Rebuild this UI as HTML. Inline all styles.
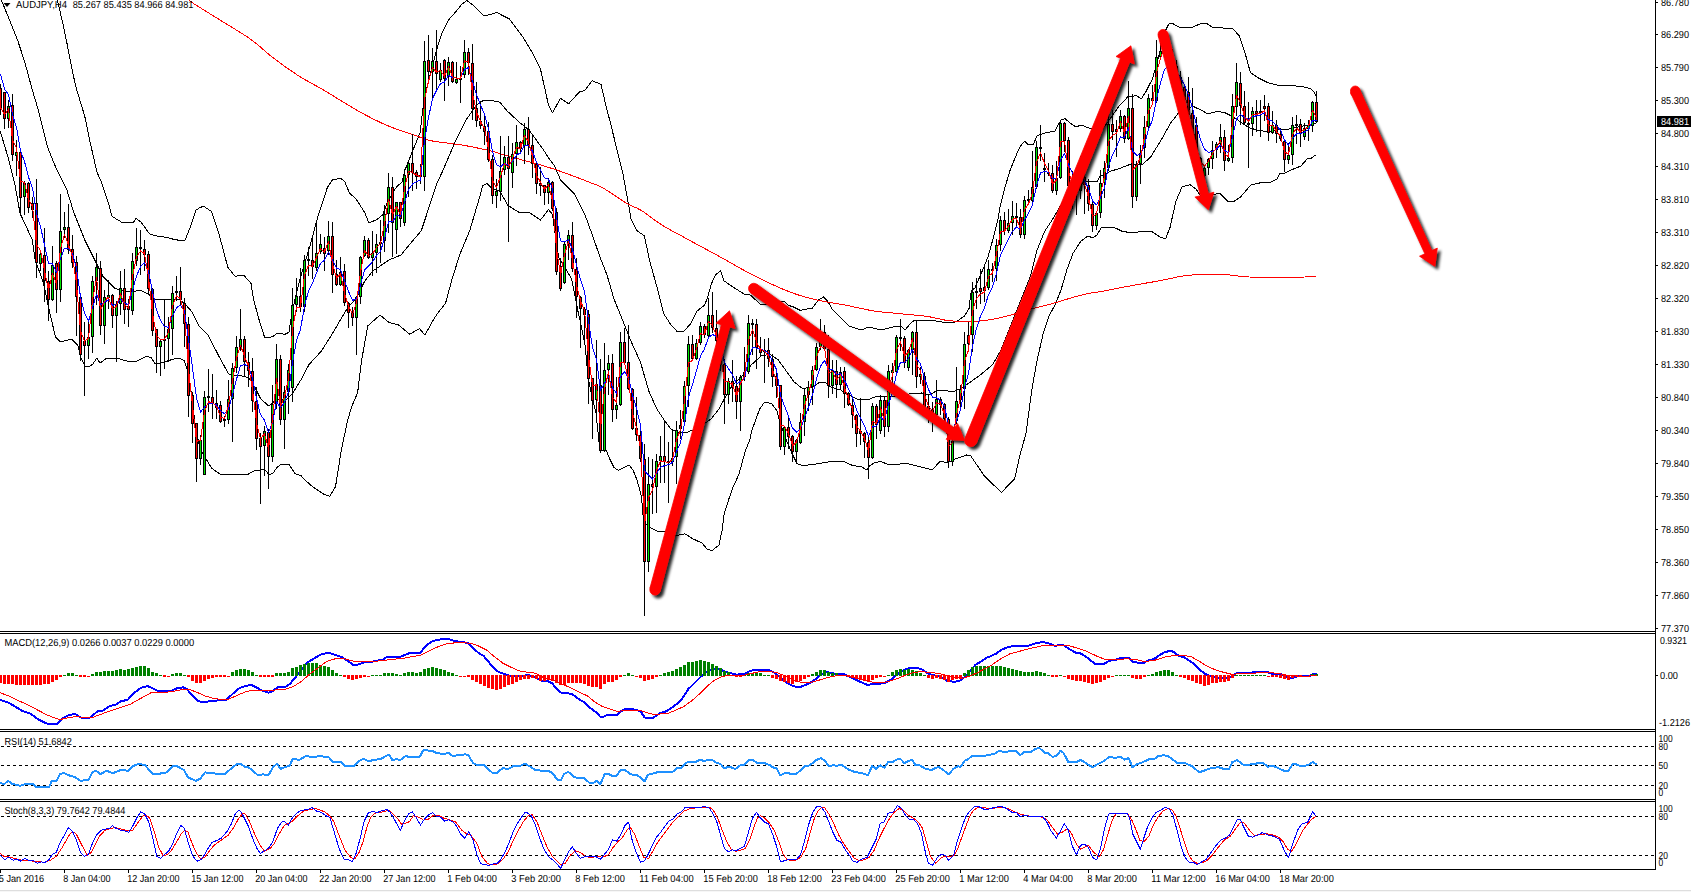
<!DOCTYPE html>
<html><head><meta charset="utf-8"><title>AUDJPY H4</title>
<style>html,body{margin:0;padding:0;background:#fff;overflow:hidden}svg{display:block}</style>
</head><body>
<svg width="1691" height="892" viewBox="0 0 1691 892">
<defs>
<filter id="sh" x="-20%" y="-20%" width="150%" height="150%"><feGaussianBlur in="SourceAlpha" stdDeviation="1.6"/><feOffset dx="2.5" dy="2.5" result="o"/><feComponentTransfer><feFuncA type="linear" slope="0.85"/></feComponentTransfer><feMerge><feMergeNode/><feMergeNode in="SourceGraphic"/></feMerge></filter>
<clipPath id="cm"><rect x="0" y="0" width="1655" height="631"/></clipPath>
</defs>
<rect width="1691" height="892" fill="#fff"/>
<g clip-path="url(#cm)">
<polyline points="56.5,-3 57.4,0 62.8,23.3 67.3,44.9 71.8,68.2 75.7,86.2 84.8,116.5 89.8,140.7 96.9,172 100.9,181 109,205.3 112,216.4 123,223 133.2,222.5 136.2,218.4 141.3,222.5 149.3,233.6 154.4,235.6 167.5,237.6 174.6,239.6 184.7,241 190.7,226 195.8,210.4 200,207.3 204,206.5 211.7,211.7 218.8,233.2 227.8,267.3 235,276.2 244,275.5 251,283.4 253.7,300 259.7,322 264.8,338 272.8,336.7 276.9,333.3 285,334.3 289,332.3 292,312 300,279 310.3,244.9 317.3,218.6 327.4,187.3 332.5,179.9 340.5,178.3 344.6,181.3 349.6,193.4 355.7,198.4 364.8,212.6 368.8,223 376.9,219.6 382.9,214.6 387,203.5 393,192.4 397,186.3 402,182.3 405,170 413,150 420,133 424,100 430,75 436,52 441.5,34 448.5,20 455.6,12 462,4 467,0.5 473.5,5.4 484.3,16 496.9,12.6 509.4,19 523,37 533,54 540.3,68.4 544.4,86.6 548.4,104.8 552.5,112.8 560.5,98.3 568.6,103.8 579.7,91.6 584.7,90.6 592,80.7 601,84.3 606.4,107.6 611,125 617,150 623,174 627,196 631,218.6 637,230.7 644.4,235.8 649.4,260 657.5,289 663.6,313.5 671,325 677,331.3 684,331.3 691,323.2 696.7,311.3 704.8,305 708,296 711.5,283.5 715.6,275 720.5,270.4 724,280.8 733,287 744.3,294.2 749.6,294.4 760.4,304.3 769,304.3 779.7,301.4 784.6,301.4 788.7,305.4 793,306.8 800.3,310.4 812.5,308 818.5,300 823.6,297 827.6,301 832.7,310 840.7,318 848.8,326 861,330 869,327 881,330 893,327 901,326 905,330 911,323 915,320 927.5,320 932,320.3 944,322.3 956,322 964.4,316 969.4,308 970.5,294 972,290 975,288 982,271.5 988,257 993,239 998,219 1000,207 1004,190.7 1010,170.5 1016.5,154.4 1020.5,146 1024.6,141.3 1028.6,145 1033.7,144 1036.7,136 1044.8,133 1054.9,131 1061,120 1065,118.5 1070,123 1076,127 1081,125 1089,128 1102,130 1110,119 1120,104.8 1128,96.7 1136.4,95.7 1141.5,98.7 1146.5,90.6 1152.6,78.5 1158.6,56.3 1164.7,32 1168.7,24 1172.7,23.6 1180.8,28 1191,27.7 1201,23.6 1207,23.6 1213,27.7 1223,28 1233.3,29 1239.3,36 1245.4,54.3 1250.4,72.5 1257.5,77.5 1267.6,82.6 1279.7,85.6 1293,85.8 1303,86.6 1311,89 1314,92 1316.5,97" fill="none" stroke="#000" stroke-width="1" stroke-linejoin="round" shape-rendering="crispEdges" />
<polyline points="0,-2 3.6,5.4 10.8,23.3 18,41.3 25,62.8 32.3,90 38.6,111 47.4,146.8 56,168 66.6,189 74,213 80,228 84.8,240 94.9,260.4 103,276.5 115,288.6 129.2,291.6 141.3,290.6 149.3,294.7 155.4,299.7 165.5,299.7 180,300 186,305 192,312 199,326 208,335 218,354.5 228.4,373.7 232.5,375.7 240.5,375.7 248.6,377.7 254.7,386.8 260.7,398.9 268.8,406 274.9,401 280.9,399 287,399 293,392.8 301,379.7 309,364.6 321,351.5 331,336 334.5,330 346.6,309.4 356.7,297.3 364.8,281 372.8,271 389,260 401,255 411,242.8 421.3,230.7 429.3,206.5 431.4,200 437.4,182.3 442.5,171.4 454.6,143 466.7,119 476.8,104.8 482.8,100.7 491,100.3 500,102.3 507,110.8 519,122 529,130 537,141 543.5,150 549.4,159 554.6,166 560.6,180 565.6,185 574.8,194.4 584.9,214.6 593,236.8 600,257 607,275 614,299 622.5,320 630.5,340 640.6,362.6 648.7,390.8 656.8,409 664.9,421 671,429 677,432 685,433 693,430 701,426 711,419 719,409 725.4,397 731.5,386.8 741.5,376.7 751.6,364.6 761.7,355.5 770,354.6 778,359.6 786,370.7 794,381.8 802.4,388.5 812.5,387 818.5,383 824.6,382 830.6,387 840.7,390 848.8,395 856.9,399 867,400 875,397 885,396 897,396 909,394 921.5,393 930,395 936,391 944,390 952,392 960,389 970.5,382 980.5,374.8 992.6,364.7 1000.7,350.5 1008.8,330.4 1016.9,310 1025,290 1030.6,275.5 1036.7,251 1044.8,231 1052.8,219 1061,204.9 1069,190.7 1085,181.6 1097,181.6 1100,176.4 1110,171.4 1120,168.3 1130.4,164.3 1142.5,164.3 1150.5,157.2 1160.6,141 1170.7,123 1178,113.5 1186,107.4 1194,106.8 1202,110.5 1208,114 1216.4,111.5 1224.5,112.5 1230.5,115.5 1238.6,120.5 1248.7,127.6 1258.8,130.6 1269,131.6 1277,129.6 1287,129.6 1295,127.6 1305,125.6 1316.5,123.6" fill="none" stroke="#000" stroke-width="1" stroke-linejoin="round" shape-rendering="crispEdges" />
<polyline points="0,130.6 8,157 15,185 20,213 23.2,220 32.3,240 35.3,260.4 43.4,282.6 48.4,306.8 55.5,337 60.5,342 71.6,339 77.7,345 80.7,357 84.8,366 88.8,367 92.8,364 96.9,358 100,363 107,358 116,358 127,361 137,361 147.3,356 151.4,358 155.4,364 161.5,363 173.6,359 180,358.5 184,360.5 187,368.6 189,384.8 192,394.9 195,425 200,449 206,459 212,468.5 220,474 248.6,474 254.7,470.5 264.8,469.5 268.8,474.6 272.8,473.6 276.9,467.5 280.9,464.5 289,464.5 295,473.6 301,475.6 305,480 312.6,486.8 324,494.4 329.8,496.3 335.5,486.8 341.5,449 347.5,421 351.5,407 357.6,392.8 361.6,360.5 367.7,326 380,315 389,322.5 398.4,324.8 409.8,334.3 419.4,328.6 425,335 432.7,321 437.4,313.5 445.5,303.4 451.5,281 459.6,255 469.7,230.7 478.8,200 482.8,185.5 486.9,183.5 491,187.5 500,191.5 508,205.5 520,213 529.4,212.6 540.5,220 548.5,209.5 552.6,214.6 554.6,230.7 558.6,257 565.7,269 571.7,279 574.8,295 578.8,315.5 580,320 585,344.4 588,376.7 592,397 596,413 600,451 606,450 610,459.4 614,467.5 618.4,470.5 623,468 629,465 633,470 637,480 641.5,496.5 643.5,520.7 648.5,526.8 656.6,531 665.7,531.8 674.8,535.9 684.9,533.8 693,538.9 702,543 707,549 712,550.6 719,545 722,530.8 724,514.7 729,498.5 733,487.4 739,474 745,452 750.4,438 751.6,431 759.7,409 763.7,403.3 766,402 772,404 777,411 780,423 786,439.3 792,453.5 797,463.6 802.4,465.6 816.5,464 830.6,461.5 844.8,462 852.8,465.6 861,466.6 867,470 870,465.6 875,462.6 881,461.5 887,464 897,464.6 905,463 915.4,465.6 927.5,468.6 932,470 940,461.5 948,462.6 954,459.5 966.4,455 970.8,456 984,475.4 1001.3,492.5 1014.6,479 1020,455 1026,433.4 1031.8,390 1037,360.6 1043,334.4 1049,316 1055,305 1061,290 1067,269.4 1073,253.3 1081,241 1088,236 1093,238 1097,235 1101,228 1109.3,227 1115.4,228 1121.5,231 1131.5,233 1141.6,231.5 1151.7,231.5 1160,237 1165.5,239 1170,227.5 1176,201 1182,187 1190,184.7 1196,189 1200,195 1208,195.5 1213.4,195 1219.4,193 1227.5,201 1234.6,201 1240.6,197 1250.7,185 1260.8,182.7 1271,182 1277,179 1280,173 1285,173 1291,170 1301,166 1308,158 1311,158.5 1315.7,155" fill="none" stroke="#000" stroke-width="1" stroke-linejoin="round" shape-rendering="crispEdges" />
<polyline points="186,-2 193.7,3.6 196.7,5.5 200.4,7.8 204.5,10.4 209,13.2 213.6,16 218.1,18.8 222.4,21.5 226.6,24.1 230.8,26.6 235,29.2 239.2,31.8 243.3,34.4 247.3,36.9 251,39.5 255.7,43.1 260,46.7 264,50.2 268.2,53.8 272.6,57.4 276.6,60.4 280.7,63.5 285,66.6 289.3,69.6 293.6,72.5 297.8,75.3 301.9,77.8 305.8,80.1 309.7,82.3 313.7,84.5 318.1,86.9 322.9,89.7 326.9,92.1 331.3,94.7 335.9,97.6 340.6,100.5 345.3,103.3 350,106.2 354.5,108.8 358.7,111.2 363.2,113.7 367.5,116 371.7,118.2 375.7,120.2 379.7,122.1 383.5,123.9 387.4,125.6 391.9,127.4 396.3,129.1 400.7,130.6 404.9,131.9 408.9,133.2 412.6,134.5 417.5,136.3 421.9,137.9 426,139.4 430.5,140.6 434.4,141.4 438.5,142 442.7,142.5 446.7,143 450.5,143.5 455.8,144.2 460.6,144.8 466.4,145.8 470,146.5 474.1,147.3 478.4,148.2 482.8,149.1 487.1,150.1 491,151 495.3,152.2 499.3,153.4 503.2,154.6 507.1,155.8 511,157 515,158.1 519,159.1 523,160.2 527,161.2 531,162.3 535.1,163.4 539.2,164.6 543.3,165.8 547.4,167 551.5,168.3 555.6,169.6 559.7,171.1 563.7,172.5 567.7,174 571.6,175.4 576.4,177.2 581.2,179 585.8,180.8 590,182.5 594.3,184.1 598.1,185.5 603,188 606.5,190.1 610.5,192.7 614.9,195.7 619.3,198.6 623.4,201.3 627,203.5 632.3,206.2 636.5,207.9 641.4,210.5 645,212.9 648.9,215.8 653,218.8 657.3,221.9 661.5,224.7 665.6,227.2 669.5,229.4 673.6,231.7 678.2,234.1 683.5,237 687.3,239.1 691.5,241.4 695.9,243.8 700.6,246.3 705.3,248.9 710.1,251.4 714.8,254 719.4,256.5 723.9,259 728.4,261.5 732.8,264 737.3,266.6 741.8,269.1 746.3,271.5 750.7,273.9 755.2,276.2 759.7,278.4 764.3,280.7 768.9,282.9 773.5,285 778.1,287.1 782.5,289 786.9,290.8 791,292.4 795.5,294 799.8,295.4 804,296.7 808.1,297.8 812.1,298.8 815.9,299.7 819.8,300.6 824.1,301.5 828.3,302.3 832.3,302.9 836.4,303.6 840.5,304.2 844.8,305 848.7,305.8 852.6,306.6 856.7,307.5 860.8,308.4 864.9,309.3 869,310.1 873,310.8 877,311.4 881.1,311.9 885.1,312.3 889.1,312.7 893.1,313 897.1,313.4 901,313.8 905.6,314.3 910.2,314.7 914.8,315.1 919.3,315.5 923.6,316 927.5,316.5 932.8,317.4 937.5,318.5 941.9,319.5 946,320.3 950.9,320.9 955.3,321.1 960,321.3 964,321.4 968.1,321.5 972.3,321.5 976.5,321.3 980.5,321 984.4,320.6 988.4,320 992.6,319.3 997,318.4 1001.6,317.4 1006.2,316.2 1011,315 1014.9,313.9 1018.9,312.7 1022.9,311.4 1027,310.2 1031,309 1035,308 1039,307 1043,306 1047,305 1051,304 1055.1,302.8 1059.2,301.6 1063.3,300.3 1067.2,299.1 1071,298 1075.4,296.7 1079.6,295.6 1083.6,294.5 1087.5,293.6 1092.1,292.8 1096.5,292.3 1101.6,291.5 1105,290.8 1108.5,290.1 1112.4,289.3 1117,288.4 1122.6,287.3 1126,286.7 1129.8,286 1134.1,285.2 1138.5,284.5 1143.1,283.6 1147.7,282.8 1152.1,282.1 1156.3,281.3 1160.2,280.6 1163.5,280 1168.9,278.9 1173.1,278 1176.7,277.1 1180.1,276.4 1183.9,275.8 1188,275.3 1192.1,275 1196.1,274.8 1200.2,274.7 1204.3,274.6 1208.4,274.5 1212.5,274.4 1216.6,274.4 1220.7,274.4 1224.8,274.6 1228.9,274.9 1233,275.4 1237,275.9 1241.1,276.3 1245.2,276.7 1249.3,277 1253.4,277.2 1257.4,277.3 1261.5,277.4 1265.6,277.5 1269.5,277.6 1273.3,277.6 1277.2,277.6 1281.3,277.6 1286,277.5 1290,277.4 1294.7,277.3 1299.7,277.2 1304.7,277 1309.3,276.9 1313.1,276.8 1315.9,276.7" fill="none" stroke="#f00" stroke-width="1" stroke-linejoin="round" shape-rendering="crispEdges" />
<path d="M0.5 84.2V114.5M4.5 92.3V128.6M8.5 100.4V127.6M12.5 94.3V160.9M16.5 139.7V176M20.5 151.8V216.4M24.5 181.1V215.4M28.5 182.1V213.4M32.5 197.2V218.4M36.5 178.6V277.5M40.5 250.3V270.5M44.5 228.1V301.7M48.5 270.5V320.9M52.5 246.2V300.7M56.5 261.4V312.8M60.5 193.8V301.7M64.5 211.9V238.2M68.5 203.9V254.3M72.5 235.1V268.4M76.5 256.3V336M80.5 296.7V361.3M84.5 321.9V395.6M88.5 321.9V359.3M92.5 275.5V353.2M96.5 253.3V304.8M100.5 261.4V335M104.5 289.6V344.1M108.5 279.5V308.8M112.5 293.7V328M116.5 300.7V362.3M120.5 270.5V314.9M124.5 269.4V323.9M128.5 298.7V327M132.5 253.3V314.9M136.5 228.1V266.4M140.5 230.1V274.5M144.5 240.2V270.5M148.5 251.3V293.7M152.5 287.6V336M156.5 329V373.4M160.5 340.1V376.4M164.5 299.7V369.3M168.5 316.9V362.3M172.5 285.6V355.2M176.5 275.5V300.7M180.5 267.4V304.8M184.5 297.8V347.4M188.5 317.2V417.1M192.5 391.8V443.3M196.5 423.1V481.6M200.5 435.2V464.5M204.5 390.8V474.6M208.5 368.6V412M212.5 373.7V419.1M216.5 389.8V419.1M220.5 400.9V423.1M224.5 416V427.1M228.5 379.7V424.1M232.5 362.6V442.3M236.5 336.3V372.7M240.5 309.1V350.5M244.5 336.3V375.7M248.5 351.5V386.8M252.5 357.5V412M256.5 386.8V450.4M260.5 433.2V503.8M264.5 426.1V475.6M268.5 429.2V488.7M272.5 384.8V461.5M276.5 344.4V409M280.5 354.5V425.1M284.5 385.8V449.3M288.5 363.6V414M292.5 288.2V402.3M296.5 278.2V311.5M300.5 268.1V311.5M304.5 254.9V311.5M308.5 246.9V276.1M312.5 237.8V279.2M316.5 219.6V271.1M320.5 233.8V253.9M324.5 236.8V271.1M328.5 220.6V254.9M332.5 221.6V293.3M336.5 260V286.2M340.5 257V286.2M344.5 264V306.4M348.5 302.4V327.6M352.5 307.4V325.6M356.5 296.3V355.4M360.5 256V304.4M364.5 235.8V257M368.5 237.8V259M372.5 230.7V276.1M376.5 233.8V273.1M380.5 219.6V263M384.5 204.5V251.9M388.5 173.2V232.7M392.5 177.2V257M396.5 201.5V253.9M400.5 201.5V226.7M404.5 169.2V225.7M408.5 162.1V197.4M412.5 134.1V191.4M416.5 170.2V189.4M420.5 164.1V184.3M424.5 41.2V190.5M428.5 35.1V80.5M432.5 48.3V98.7M436.5 30.1V90.6M440.5 63.4V81.6M444.5 59.4V100.7M448.5 57.3V85.6M452.5 61.4V82.6M456.5 62.4V83.6M460.5 66.4V102.7M464.5 40.2V77.5M468.5 48.3V74.5M472.5 44.2V119.9M476.5 81.6V127M480.5 100.7V129M484.5 115.9V145.1M488.5 121.9V162.3M492.5 155.2V203.7M496.5 179.4V207.7M500.5 136V200.6M504.5 146.1V175.4M508.5 136V242M512.5 143.1V187.5M516.5 124.9V166.3M520.5 141.1V154.2M524.5 122.9V164.3M528.5 116.9V155.2M532.5 134V178.4M536.5 163.3V193.6M540.5 167.3V195.6M544.5 184.5V204.7M548.5 178.4V203.7M552.5 181.3V210.5M556.5 207.5V275.1M560.5 258V291.3M564.5 241.8V284.2M568.5 229.7V260M572.5 221.6V272.1M576.5 258V317.5M580.5 296.3V347.8M584.5 307.4V343.7M588.5 310.1V403.9M592.5 377.7V439.3M596.5 340.4V414M600.5 358.5V453.4M604.5 343.4V452.4M608.5 354.5V394.9M612.5 353.5V422.1M616.5 376.7V419.1M620.5 332.3V406M624.5 328.3V364.6M628.5 325.2V389.8M632.5 387.8V430.2M636.5 396.9V441.3M640.5 431.2V461.5M644.5 444V615.6M648.5 457.2V572.2M652.5 459.2V513.7M656.5 454.1V512.7M660.5 436V483.4M664.5 419.8V483.4M668.5 442V502.6M672.5 429.9V466.2M676.5 420.8V484.4M680.5 410V439.3M684.5 380.7V423.1M688.5 336.3V407M692.5 335.3V360.5M696.5 339.4V359.5M700.5 322.2V345.4M704.5 324.2V338.3M708.5 298.4V337.3M712.5 291.9V333.3M716.5 310.1V348.4M720.5 330.3V370.6M724.5 358.5V424.1M728.5 377.7V403.9M732.5 359.5V401.9M736.5 375.7V419.1M740.5 374.7V431.2M744.5 347.4V380.7M748.5 315.1V373.7M752.5 319.2V354.5M756.5 319.2V368.6M760.5 337.4V356.6M764.5 339.4V382.8M768.5 338.4V366.7M772.5 353.6V386.9M776.5 367.7V398M780.5 384.9V450.4M784.5 426.2V454.5M788.5 415.1V449.4M792.5 435.3V461.5M796.5 439.3V463.6M800.5 413.1V444.4M804.5 388.9V436.3M808.5 380.8V411.1M812.5 365.7V405M816.5 342.5V370.7M820.5 319.3V349.5M824.5 325.3V349.5M828.5 335.4V398M832.5 359.6V393.9M836.5 359.6V398M840.5 366.7V389.9M844.5 366.7V408.1M848.5 391.9V406M852.5 396V428.2M856.5 414.1V447.4M860.5 398V445.4M864.5 432.3V457.5M868.5 436.3V478.9M872.5 403V458.5M876.5 404V439.3M880.5 394.9V434.3M884.5 397V437.3M888.5 364.7V432.3M892.5 362.7V386.9M896.5 335.4V374.8M900.5 319.3V350.5M904.5 336.4V367.7M908.5 348.5V370.7M912.5 331.4V374.8M916.5 321.3V387.9M920.5 366.7V383.8M924.5 371.7V409.1M928.5 393.9V423.2M932.5 402V432.3M936.5 379.8V419.2M940.5 397V415.1M944.5 403V423.2M948.5 417.1V467.6M952.5 439.3V465.6M956.5 366.7V424.2M960.5 384.9V407.1M964.5 332.4V409.1M968.5 322.3V345.5M972.5 281.9V351.6M976.5 277.9V309.2M980.5 269.4V303.7M984.5 267.4V301.7M988.5 260.4V290M992.5 263.4V281.5M996.5 239.2V280.5M1000.5 216V251.3M1004.5 211.9V235.1M1008.5 208.9V233.1M1012.5 200.8V235.1M1016.5 202.8V227.1M1020.5 208.9V238.2M1024.5 195.8V239.2M1028.5 189.7V204.9M1032.5 151.4V202.8M1036.5 141.3V188.7M1040.5 125.1V160.5M1044.5 153.4V181.6M1048.5 162.5V175.6M1052.5 164.5V192.7M1056.5 160.5V194.8M1060.5 122.1V178.6M1064.5 122.1V152.4M1068.5 137.2V190.7M1072.5 170.5V208.9M1076.5 176.6V214.9M1080.5 156.4V198.8M1084.5 170.5V213.9M1088.5 178.6V210.9M1092.5 201.8V232.1M1096.5 210.9V230.1M1100.5 169.5V218M1104.5 160.5V197.8M1108.5 114V170.5M1112.5 110V140.3M1116.5 120.1V157.4M1120.5 110V132.2M1124.5 115V143.3M1128.5 80.5V140.1M1132.5 93.7V207.9M1136.5 161.3V200.6M1140.5 145.1V183.5M1144.5 115.9V158.2M1148.5 93.7V129M1152.5 84.6V104.8M1156.5 40.2V102.7M1160.5 43.2V59.4M1164.5 30.1V56.3M1168.5 36.1V66.4M1172.5 49.3V80.5M1176.5 60.4V86.6M1180.5 70.5V100.7M1184.5 85.6V108.8M1188.5 77.2V116.5M1192.5 88.3V137.7M1196.5 116.5V160.9M1200.5 156.9V179.1M1204.5 167V181.1M1208.5 157.9V175M1212.5 140.7V169M1216.5 141.7V157.9M1220.5 123.6V152.8M1224.5 129.6V171M1228.5 144.8V161.9M1232.5 94.3V162.9M1236.5 63V115.5M1240.5 72.1V124.6M1244.5 91.3V124.6M1248.5 102.4V168M1252.5 107.4V135.7M1256.5 100.4V131.6M1260.5 100.4V136.7M1264.5 95.3V120.5M1268.5 103.4V140.7M1272.5 110.5V133.7M1276.5 119.5V142.7M1280.5 127.6V140.7M1284.5 139.7V172M1288.5 142.7V163.9M1292.5 116.5V164.9M1296.5 114.5V143.8M1300.5 118.5V146.8M1304.5 122.6V139.7M1308.5 119.5V140.7M1312.5 101.4V131.6M1316.5 91.3V122.6" stroke="#000" stroke-width="1" fill="none" shape-rendering="crispEdges"/>
<path d="M-1 88h3v22h-3zM3 92h3v27h-3zM7 106h3v13h-3zM11 105h3v50h-3zM15 152h3v4h-3zM19 152h3v46h-3zM23 183h3v14h-3zM27 183h3v25h-3zM31 203h3v7h-3zM35 203h3v60h-3zM39 254h3v10h-3zM43 255h3v26h-3zM47 281h3v19h-3zM51 265h3v35h-3zM55 263h3v27h-3zM59 231h3v59h-3zM63 227h3v3h-3zM67 227h3v23h-3zM71 249h3v14h-3zM75 262h3v35h-3zM79 297h3v58h-3zM83 341h3v5h-3zM87 337h3v9h-3zM91 281h3v56h-3zM95 267h3v14h-3zM99 268h3v58h-3zM103 297h3v29h-3zM107 295h3v3h-3zM111 295h3v21h-3zM115 304h3v12h-3zM119 288h3v16h-3zM123 288h3v22h-3zM127 306h3v4h-3zM131 261h3v50h-3zM135 247h3v14h-3zM139 247h3v2h-3zM143 249h3v6h-3zM147 254h3v35h-3zM151 289h3v42h-3zM155 329h3v18h-3zM159 341h3v6h-3zM163 339h3v2h-3zM167 329h3v10h-3zM171 293h3v36h-3zM175 291h3v2h-3zM179 291h3v9h-3zM183 303h3v21h-3zM187 324h3v72h-3zM191 395h3v29h-3zM195 423h3v36h-3zM199 440h3v19h-3zM203 397h3v78h-3zM207 396h3v2h-3zM211 397h3v6h-3zM215 403h3v5h-3zM219 405h3v17h-3zM223 419h3v2h-3zM227 399h3v21h-3zM231 368h3v31h-3zM235 347h3v21h-3zM239 339h3v8h-3zM243 339h3v23h-3zM247 362h3v9h-3zM251 371h3v30h-3zM255 401h3v38h-3zM259 438h3v9h-3zM263 431h3v15h-3zM267 432h3v25h-3zM271 404h3v53h-3zM275 359h3v45h-3zM279 359h3v61h-3zM283 392h3v28h-3zM287 370h3v22h-3zM291 305h3v83h-3zM295 296h3v9h-3zM299 296h3v11h-3zM303 260h3v47h-3zM307 259h3v2h-3zM311 260h3v7h-3zM315 253h3v15h-3zM319 244h3v8h-3zM323 248h3v6h-3zM327 236h3v15h-3zM331 236h3v39h-3zM335 274h3v11h-3zM339 272h3v13h-3zM343 271h3v32h-3zM347 303h3v10h-3zM351 312h3v6h-3zM355 297h3v21h-3zM359 257h3v40h-3zM363 240h3v16h-3zM367 240h3v18h-3zM371 253h3v5h-3zM375 244h3v9h-3zM379 242h3v2h-3zM383 214h3v27h-3zM387 187h3v27h-3zM391 187h3v36h-3zM395 202h3v28h-3zM399 202h3v17h-3zM403 175h3v48h-3zM407 163h3v12h-3zM411 163h3v10h-3zM415 172h3v5h-3zM419 175h3v2h-3zM423 61h3v116h-3zM427 60h3v12h-3zM431 61h3v11h-3zM435 61h3v13h-3zM439 70h3v10h-3zM443 60h3v19h-3zM447 62h3v15h-3zM451 62h3v20h-3zM455 79h3v4h-3zM459 78h3v2h-3zM463 52h3v23h-3zM467 52h3v11h-3zM471 63h3v46h-3zM475 108h3v13h-3zM479 121h3v5h-3zM483 126h3v6h-3zM487 131h3v29h-3zM491 159h3v37h-3zM495 191h3v5h-3zM499 171h3v21h-3zM503 157h3v13h-3zM507 157h3v12h-3zM511 154h3v19h-3zM515 142h3v12h-3zM519 142h3v7h-3zM523 129h3v17h-3zM527 129h3v16h-3zM531 145h3v19h-3zM535 164h3v20h-3zM539 183h3v3h-3zM543 185h3v8h-3zM547 182h3v11h-3zM551 182h3v27h-3zM555 212h3v60h-3zM559 266h3v23h-3zM563 244h3v39h-3zM567 235h3v9h-3zM571 235h3v34h-3zM575 269h3v28h-3zM579 297h3v12h-3zM583 309h3v6h-3zM587 314h3v65h-3zM591 378h3v23h-3zM595 384h3v16h-3zM599 385h3v66h-3zM603 370h3v81h-3zM607 363h3v7h-3zM611 363h3v47h-3zM615 405h3v5h-3zM619 342h3v63h-3zM623 342h3v21h-3zM627 362h3v27h-3zM631 389h3v40h-3zM635 428h3v7h-3zM639 435h3v24h-3zM643 459h3v103h-3zM647 484h3v78h-3zM651 484h3v3h-3zM655 461h3v26h-3zM659 456h3v5h-3zM663 456h3v6h-3zM667 461h3v2h-3zM671 458h3v4h-3zM675 430h3v27h-3zM679 425h3v4h-3zM683 386h3v36h-3zM687 344h3v42h-3zM691 344h3v15h-3zM695 343h3v16h-3zM699 326h3v17h-3zM703 326h3v9h-3zM707 315h3v21h-3zM711 315h3v13h-3zM715 328h3v13h-3zM719 341h3v24h-3zM723 364h3v31h-3zM727 381h3v14h-3zM731 381h3v6h-3zM735 386h3v16h-3zM739 377h3v25h-3zM743 372h3v5h-3zM747 323h3v49h-3zM751 323h3v2h-3zM755 324h3v24h-3zM759 349h3v4h-3zM763 350h3v2h-3zM767 350h3v9h-3zM771 359h3v18h-3zM775 376h3v10h-3zM779 385h3v62h-3zM783 427h3v20h-3zM787 427h3v10h-3zM791 436h3v16h-3zM795 440h3v12h-3zM799 422h3v21h-3zM803 395h3v27h-3zM807 387h3v8h-3zM811 370h3v17h-3zM815 347h3v23h-3zM819 341h3v6h-3zM823 332h3v17h-3zM827 349h3v37h-3zM831 370h3v16h-3zM835 371h3v14h-3zM839 372h3v13h-3zM843 371h3v23h-3zM847 393h3v12h-3zM851 405h3v10h-3zM855 415h3v19h-3zM859 431h3v3h-3zM863 433h3v9h-3zM867 442h3v16h-3zM871 406h3v52h-3zM875 406h3v19h-3zM879 400h3v31h-3zM883 400h3v27h-3zM887 371h3v56h-3zM891 370h3v3h-3zM895 337h3v35h-3zM899 337h3v2h-3zM903 338h3v25h-3zM907 350h3v18h-3zM911 332h3v18h-3zM915 332h3v45h-3zM919 374h3v3h-3zM923 376h3v31h-3zM927 406h3v6h-3zM931 409h3v4h-3zM935 399h3v16h-3zM939 399h3v6h-3zM943 404h3v15h-3zM947 419h3v43h-3zM951 441h3v21h-3zM955 401h3v20h-3zM959 389h3v11h-3zM963 344h3v45h-3zM967 335h3v9h-3zM971 292h3v43h-3zM975 291h3v2h-3zM979 288h3v4h-3zM983 287h3v4h-3zM987 269h3v19h-3zM991 269h3v2h-3zM995 245h3v24h-3zM999 220h3v25h-3zM1003 220h3v11h-3zM1007 223h3v8h-3zM1011 216h3v7h-3zM1015 216h3v2h-3zM1019 217h3v18h-3zM1023 200h3v35h-3zM1027 199h3v2h-3zM1031 187h3v14h-3zM1035 147h3v40h-3zM1039 147h3v2h-3zM1043 168h3v2h-3zM1047 172h3v2h-3zM1051 173h3v18h-3zM1055 178h3v13h-3zM1059 123h3v55h-3zM1063 123h3v18h-3zM1067 140h3v46h-3zM1071 181h3v10h-3zM1075 187h3v6h-3zM1079 179h3v12h-3zM1083 177h3v8h-3zM1087 185h3v19h-3zM1091 204h3v22h-3zM1095 213h3v13h-3zM1099 183h3v30h-3zM1103 168h3v15h-3zM1107 124h3v44h-3zM1111 124h3v8h-3zM1115 129h3v3h-3zM1119 116h3v13h-3zM1123 116h3v23h-3zM1127 108h3v31h-3zM1131 108h3v89h-3zM1135 164h3v33h-3zM1139 153h3v11h-3zM1143 127h3v21h-3zM1147 98h3v29h-3zM1151 98h3v3h-3zM1155 57h3v44h-3zM1159 51h3v6h-3zM1163 42h3v10h-3zM1167 44h3v14h-3zM1171 58h3v12h-3zM1175 66h3v15h-3zM1179 77h3v13h-3zM1183 87h3v13h-3zM1187 92h3v22h-3zM1191 113h3v22h-3zM1195 125h3v34h-3zM1199 158h3v11h-3zM1203 168h3v8h-3zM1207 159h3v9h-3zM1211 150h3v9h-3zM1215 144h3v6h-3zM1219 137h3v7h-3zM1223 137h3v24h-3zM1227 158h3v3h-3zM1231 106h3v52h-3zM1235 82h3v25h-3zM1239 83h3v23h-3zM1243 106h3v17h-3zM1247 123h3v2h-3zM1251 111h3v13h-3zM1255 111h3v3h-3zM1259 111h3v2h-3zM1263 106h3v3h-3zM1267 106h3v27h-3zM1271 125h3v8h-3zM1275 125h3v9h-3zM1279 134h3v5h-3zM1283 141h3v19h-3zM1287 155h3v5h-3zM1291 125h3v30h-3zM1295 124h3v2h-3zM1299 124h3v10h-3zM1303 128h3v9h-3zM1307 125h3v4h-3zM1311 102h3v24h-3zM1315 102h3v20h-3z" fill="#000" shape-rendering="crispEdges"/>
<path d="M8 107h1v11h-1zM16 153h1v2h-1zM24 184h1v12h-1zM40 255h1v8h-1zM52 266h1v33h-1zM60 232h1v57h-1zM64 228h1v1h-1zM88 338h1v7h-1zM92 282h1v54h-1zM96 268h1v12h-1zM104 298h1v27h-1zM108 296h1v1h-1zM116 305h1v10h-1zM120 289h1v14h-1zM132 262h1v48h-1zM136 248h1v12h-1zM160 342h1v4h-1zM168 330h1v8h-1zM172 294h1v34h-1zM200 441h1v17h-1zM204 398h1v76h-1zM228 400h1v19h-1zM232 369h1v29h-1zM236 348h1v19h-1zM240 340h1v6h-1zM264 432h1v13h-1zM272 405h1v51h-1zM276 360h1v43h-1zM284 393h1v26h-1zM288 371h1v20h-1zM292 306h1v81h-1zM296 297h1v7h-1zM304 261h1v45h-1zM316 254h1v13h-1zM320 245h1v6h-1zM328 237h1v13h-1zM340 273h1v11h-1zM356 298h1v19h-1zM360 258h1v38h-1zM364 241h1v14h-1zM372 254h1v3h-1zM376 245h1v7h-1zM384 215h1v25h-1zM388 188h1v25h-1zM396 203h1v26h-1zM404 176h1v46h-1zM408 164h1v10h-1zM424 62h1v114h-1zM432 62h1v9h-1zM440 71h1v8h-1zM448 63h1v13h-1zM456 80h1v2h-1zM464 53h1v21h-1zM496 192h1v3h-1zM500 172h1v19h-1zM504 158h1v11h-1zM512 155h1v17h-1zM516 143h1v10h-1zM524 130h1v15h-1zM548 183h1v9h-1zM564 245h1v37h-1zM568 236h1v7h-1zM596 385h1v14h-1zM604 371h1v79h-1zM608 364h1v5h-1zM616 406h1v3h-1zM620 343h1v61h-1zM648 485h1v76h-1zM656 462h1v24h-1zM660 457h1v3h-1zM672 459h1v2h-1zM676 431h1v25h-1zM680 426h1v2h-1zM684 387h1v34h-1zM688 345h1v40h-1zM696 344h1v14h-1zM700 327h1v15h-1zM708 316h1v19h-1zM728 382h1v12h-1zM740 378h1v23h-1zM744 373h1v3h-1zM748 324h1v47h-1zM784 428h1v18h-1zM796 441h1v10h-1zM800 423h1v19h-1zM804 396h1v25h-1zM808 388h1v6h-1zM812 371h1v15h-1zM816 348h1v21h-1zM820 342h1v4h-1zM832 371h1v14h-1zM840 373h1v11h-1zM872 407h1v50h-1zM880 401h1v29h-1zM888 372h1v54h-1zM892 371h1v1h-1zM896 338h1v33h-1zM908 351h1v16h-1zM912 333h1v16h-1zM920 375h1v1h-1zM936 400h1v14h-1zM952 442h1v19h-1zM956 402h1v18h-1zM960 390h1v9h-1zM964 345h1v43h-1zM972 293h1v41h-1zM988 270h1v17h-1zM996 246h1v22h-1zM1000 221h1v23h-1zM1008 224h1v6h-1zM1012 217h1v5h-1zM1024 201h1v33h-1zM1032 188h1v12h-1zM1036 148h1v38h-1zM1056 179h1v11h-1zM1060 124h1v53h-1zM1076 188h1v4h-1zM1080 180h1v10h-1zM1096 214h1v11h-1zM1100 184h1v28h-1zM1104 169h1v13h-1zM1108 125h1v42h-1zM1120 117h1v11h-1zM1128 109h1v29h-1zM1136 165h1v31h-1zM1140 154h1v9h-1zM1144 128h1v19h-1zM1148 99h1v27h-1zM1156 58h1v42h-1zM1160 52h1v4h-1zM1164 43h1v8h-1zM1204 169h1v6h-1zM1208 160h1v7h-1zM1212 151h1v7h-1zM1216 145h1v4h-1zM1220 138h1v5h-1zM1228 159h1v1h-1zM1232 107h1v50h-1zM1236 83h1v23h-1zM1252 112h1v11h-1zM1272 126h1v6h-1zM1288 156h1v3h-1zM1292 126h1v28h-1zM1304 129h1v7h-1zM1308 126h1v2h-1zM1312 103h1v22h-1z" fill="#00e600" shape-rendering="crispEdges"/>
<path d="M0 89h1v20h-1zM4 93h1v25h-1zM12 106h1v48h-1zM20 153h1v44h-1zM28 184h1v23h-1zM32 204h1v5h-1zM36 204h1v58h-1zM44 256h1v24h-1zM48 282h1v17h-1zM56 264h1v25h-1zM68 228h1v21h-1zM72 250h1v12h-1zM76 263h1v33h-1zM80 298h1v56h-1zM84 342h1v3h-1zM100 269h1v56h-1zM112 296h1v19h-1zM124 289h1v20h-1zM128 307h1v2h-1zM144 250h1v4h-1zM148 255h1v33h-1zM152 290h1v40h-1zM156 330h1v16h-1zM180 292h1v7h-1zM184 304h1v19h-1zM188 325h1v70h-1zM192 396h1v27h-1zM196 424h1v34h-1zM212 398h1v4h-1zM216 404h1v3h-1zM220 406h1v15h-1zM244 340h1v21h-1zM248 363h1v7h-1zM252 372h1v28h-1zM256 402h1v36h-1zM260 439h1v7h-1zM268 433h1v23h-1zM280 360h1v59h-1zM300 297h1v9h-1zM312 261h1v5h-1zM324 249h1v4h-1zM332 237h1v37h-1zM336 275h1v9h-1zM344 272h1v30h-1zM348 304h1v8h-1zM352 313h1v4h-1zM368 241h1v16h-1zM392 188h1v34h-1zM400 203h1v15h-1zM412 164h1v8h-1zM416 173h1v3h-1zM428 61h1v10h-1zM436 62h1v11h-1zM444 61h1v17h-1zM452 63h1v18h-1zM468 53h1v9h-1zM472 64h1v44h-1zM476 109h1v11h-1zM480 122h1v3h-1zM484 127h1v4h-1zM488 132h1v27h-1zM492 160h1v35h-1zM508 158h1v10h-1zM520 143h1v5h-1zM528 130h1v14h-1zM532 146h1v17h-1zM536 165h1v18h-1zM540 184h1v1h-1zM544 186h1v6h-1zM552 183h1v25h-1zM556 213h1v58h-1zM560 267h1v21h-1zM572 236h1v32h-1zM576 270h1v26h-1zM580 298h1v10h-1zM584 310h1v4h-1zM588 315h1v63h-1zM592 379h1v21h-1zM600 386h1v64h-1zM612 364h1v45h-1zM624 343h1v19h-1zM628 363h1v25h-1zM632 390h1v38h-1zM636 429h1v5h-1zM640 436h1v22h-1zM644 460h1v101h-1zM652 485h1v1h-1zM664 457h1v4h-1zM692 345h1v13h-1zM704 327h1v7h-1zM712 316h1v11h-1zM716 329h1v11h-1zM720 342h1v22h-1zM724 365h1v29h-1zM732 382h1v4h-1zM736 387h1v14h-1zM756 325h1v22h-1zM760 350h1v2h-1zM768 351h1v7h-1zM772 360h1v16h-1zM776 377h1v8h-1zM780 386h1v60h-1zM788 428h1v8h-1zM792 437h1v14h-1zM824 333h1v15h-1zM828 350h1v35h-1zM836 372h1v12h-1zM844 372h1v21h-1zM848 394h1v10h-1zM852 406h1v8h-1zM856 416h1v17h-1zM860 432h1v1h-1zM864 434h1v7h-1zM868 443h1v14h-1zM876 407h1v17h-1zM884 401h1v25h-1zM904 339h1v23h-1zM916 333h1v43h-1zM924 377h1v29h-1zM928 407h1v4h-1zM932 410h1v2h-1zM940 400h1v4h-1zM944 405h1v13h-1zM948 420h1v41h-1zM968 336h1v7h-1zM980 289h1v2h-1zM984 288h1v2h-1zM1004 221h1v9h-1zM1020 218h1v16h-1zM1052 174h1v16h-1zM1064 124h1v16h-1zM1068 141h1v44h-1zM1072 182h1v8h-1zM1084 178h1v6h-1zM1088 186h1v17h-1zM1092 205h1v20h-1zM1112 125h1v6h-1zM1116 130h1v1h-1zM1124 117h1v21h-1zM1132 109h1v87h-1zM1152 99h1v1h-1zM1168 45h1v12h-1zM1172 59h1v10h-1zM1176 67h1v13h-1zM1180 78h1v11h-1zM1184 88h1v11h-1zM1188 93h1v20h-1zM1192 114h1v20h-1zM1196 126h1v32h-1zM1200 159h1v9h-1zM1224 138h1v22h-1zM1240 84h1v21h-1zM1244 107h1v15h-1zM1256 112h1v1h-1zM1264 107h1v1h-1zM1268 107h1v25h-1zM1276 126h1v7h-1zM1280 135h1v3h-1zM1284 142h1v17h-1zM1300 125h1v8h-1zM1316 103h1v18h-1z" fill="#f00" shape-rendering="crispEdges"/>
<polyline points="0.5,74 4.5,89 8.5,94.7 12.5,114.8 16.5,127.2 20.5,150.8 24.5,161.5 28.5,177 32.5,188 36.5,213 40.5,226.7 44.5,244.8 48.5,263.2 52.5,263.8 56.5,272.5 60.5,258.7 64.5,248.1 68.5,248.7 72.5,253.5 76.5,268 80.5,297 84.5,313.3 88.5,321.2 92.5,307.8 96.5,294.2 100.5,304.8 104.5,302.2 108.5,299.8 112.5,305.2 116.5,304.8 120.5,299.2 124.5,302.8 128.5,305.2 132.5,290.5 136.5,276 140.5,266.7 144.5,262.8 148.5,271.5 152.5,291.3 156.5,309.9 160.5,320.3 164.5,326.5 168.5,327.3 172.5,315.9 176.5,307.6 180.5,305.1 184.5,311.4 188.5,339.6 192.5,367.7 196.5,398.1 200.5,412.1 204.5,407.1 208.5,403.7 212.5,403.5 216.5,405 220.5,410.7 224.5,413.8 228.5,408.8 232.5,395.2 236.5,379.2 240.5,365.8 244.5,364.5 248.5,366.7 252.5,378.1 256.5,398.4 260.5,414.6 264.5,420.1 268.5,432.4 272.5,422.9 276.5,401.6 280.5,407.7 284.5,402.5 288.5,391.7 292.5,362.8 296.5,340.5 300.5,329.3 304.5,306.2 308.5,290.8 312.5,282.9 316.5,272.9 320.5,263.3 324.5,260.2 328.5,252.1 332.5,259.7 336.5,268.2 340.5,269.4 344.5,280.6 348.5,291.4 352.5,300.3 356.5,299.2 360.5,285.1 364.5,270.1 368.5,266.1 372.5,261.7 376.5,255.8 380.5,251.2 384.5,238.8 388.5,221.5 392.5,222 396.5,215.3 400.5,216.6 404.5,202.7 408.5,189.5 412.5,184 416.5,181.7 420.5,180.1 424.5,140.4 428.5,117.6 432.5,98.7 436.5,90.5 440.5,83.7 444.5,82.1 448.5,75.4 452.5,77.6 456.5,78.1 460.5,78.4 464.5,69.6 468.5,67.4 472.5,81.3 476.5,94.5 480.5,105 484.5,114 488.5,129.3 492.5,151.6 496.5,164.7 500.5,166.8 504.5,163.5 508.5,165.4 512.5,161.6 516.5,155 520.5,153 524.5,145 528.5,145 532.5,151.3 536.5,162.2 540.5,170.2 544.5,177.8 548.5,179.2 552.5,189.1 556.5,216.7 560.5,240.8 564.5,241.9 568.5,239.6 572.5,249.4 576.5,265.3 580.5,279.8 584.5,291.6 588.5,320.7 592.5,347.5 596.5,359.6 600.5,390.1 604.5,383.4 608.5,376.6 612.5,387.7 616.5,393.5 620.5,376.3 624.5,371.9 628.5,377.6 632.5,394.7 636.5,408.2 640.5,425.1 644.5,470.7 648.5,475.2 652.5,479.1 656.5,473.1 660.5,467.4 664.5,465.6 668.5,464.7 672.5,462.5 676.5,451.7 680.5,442.8 684.5,423.8 688.5,397.2 692.5,384.5 696.5,370.7 700.5,355.8 704.5,348.8 708.5,337.6 712.5,334.4 716.5,336.6 720.5,346.1 724.5,362.4 728.5,368.6 732.5,374.7 736.5,383.8 740.5,381.5 744.5,378.4 748.5,359.9 752.5,347.9 756.5,348 760.5,349.6 764.5,350.4 768.5,353.3 772.5,361.2 776.5,369.5 780.5,395.3 784.5,405.9 788.5,416.2 792.5,428.2 796.5,432.1 800.5,428.7 804.5,417.5 808.5,407.3 812.5,394.9 816.5,378.9 820.5,366.3 824.5,360.5 828.5,369 832.5,369.3 836.5,374.6 840.5,373.7 844.5,380.5 848.5,388.6 852.5,397.4 856.5,409.6 860.5,417.7 864.5,425.8 868.5,436.6 872.5,426.4 876.5,425.9 880.5,417.3 884.5,420.5 888.5,404 892.5,392.7 896.5,374.1 900.5,362.1 904.5,362.4 908.5,358.3 912.5,349.5 916.5,358.7 920.5,363.8 924.5,378.2 928.5,389.5 932.5,397.3 936.5,397.9 940.5,400.2 944.5,406.5 948.5,425 952.5,430.3 956.5,420.6 960.5,410 964.5,388 968.5,373.3 972.5,346.2 976.5,328.2 980.5,316.1 984.5,307.7 988.5,294.8 992.5,286.9 996.5,272.9 1000.5,255.3 1004.5,247.2 1008.5,239.1 1012.5,231.4 1016.5,226.9 1020.5,229.6 1024.5,219.8 1028.5,213.5 1032.5,204.7 1036.5,185.4 1040.5,173 1044.5,171.6 1048.5,172.4 1052.5,178.6 1056.5,178.4 1060.5,159.9 1064.5,153.6 1068.5,164.4 1072.5,173.3 1076.5,177.9 1080.5,178.2 1084.5,180.5 1088.5,188.3 1092.5,200.9 1096.5,204.9 1100.5,197.6 1104.5,187.7 1108.5,166.5 1112.5,155 1116.5,147.3 1120.5,136.9 1124.5,137.6 1128.5,127.7 1132.5,150.8 1136.5,155.2 1140.5,154.5 1144.5,145.3 1148.5,129.5 1152.5,120 1156.5,99 1160.5,83 1164.5,69.3 1168.5,65.6 1172.5,67 1176.5,71.7 1180.5,77.8 1184.5,85.2 1188.5,94.8 1192.5,108.2 1196.5,125.1 1200.5,139.8 1204.5,149.2 1208.5,152.4 1212.5,151.6 1216.5,149.1 1220.5,145.1 1224.5,150.4 1228.5,152.9 1232.5,137.3 1236.5,118.9 1240.5,114.6 1244.5,117.4 1248.5,119.6 1252.5,116.7 1256.5,115.8 1260.5,114.9 1264.5,112.9 1268.5,119.6 1272.5,121.4 1276.5,125.6 1280.5,130.1 1284.5,140 1288.5,145 1292.5,138.4 1296.5,133.9 1300.5,133.9 1304.5,132 1308.5,129.6 1312.5,120.4 1316.5,121" fill="none" stroke="#00f" stroke-width="1" stroke-linejoin="round" shape-rendering="crispEdges" />
<polyline points="0.5,107.3 4.5,115.1 8.5,109 12.5,139.7 16.5,147.9 20.5,181.3 24.5,182.4 28.5,199.5 32.5,206.5 36.5,244.2 40.5,250.7 44.5,270.9 48.5,290.3 52.5,273.4 56.5,284.5 60.5,248.8 64.5,234.3 68.5,244.8 72.5,256.9 76.5,283.6 80.5,331.2 84.5,341.1 88.5,338.4 92.5,300.1 96.5,278 100.5,310 104.5,301.3 108.5,297.1 112.5,309.7 116.5,305.9 120.5,294 124.5,304.7 128.5,308.2 132.5,276.7 136.5,256.9 140.5,251 144.5,253.7 148.5,277.2 152.5,313.1 156.5,335.7 160.5,339.2 164.5,339.1 168.5,332.4 172.5,306.1 176.5,296 180.5,298.7 184.5,315.6 188.5,369.2 192.5,405.7 196.5,441.2 200.5,440.4 204.5,411.5 208.5,401.8 212.5,402.6 216.5,406.2 220.5,416.7 224.5,418.9 228.5,405.6 232.5,380.5 236.5,358.2 240.5,345.4 244.5,356.5 248.5,366.2 252.5,389.4 256.5,422.5 260.5,438.8 264.5,433.6 268.5,449.2 272.5,419.1 276.5,379 280.5,406.3 284.5,396.8 288.5,378.9 292.5,329.6 296.5,307.2 300.5,307.1 304.5,275.7 308.5,265.2 312.5,266.4 316.5,257.5 320.5,248.5 324.5,252.2 328.5,241.4 332.5,263.8 336.5,277.9 340.5,274 344.5,293.3 348.5,306.4 352.5,314.1 356.5,302.7 360.5,272.2 364.5,250.7 368.5,255.6 372.5,253.9 376.5,247.3 380.5,243.8 384.5,223.9 388.5,199.3 392.5,215.1 396.5,206.4 400.5,214.8 404.5,188.3 408.5,171.4 412.5,172.5 416.5,175.5 420.5,176.5 424.5,99.5 428.5,81.2 432.5,67.7 436.5,71.9 440.5,70.6 444.5,76.2 448.5,66.7 452.5,76.9 456.5,78.3 460.5,78.8 464.5,60.9 468.5,62.3 472.5,93.4 476.5,111.8 480.5,121.3 484.5,128.4 488.5,149.5 492.5,180.5 496.5,187.5 500.5,176.5 504.5,163.5 508.5,167.2 512.5,158.4 516.5,147.5 520.5,148.5 524.5,135.5 528.5,141.8 532.5,156.6 536.5,174.9 540.5,182.3 544.5,189.4 548.5,184.5 552.5,200.8 556.5,248.3 560.5,275.4 564.5,254.5 568.5,241.5 572.5,259.8 576.5,284.6 580.5,300.9 584.5,310.3 588.5,356.1 592.5,386 596.5,384.7 600.5,428.9 604.5,389.6 608.5,371.9 612.5,397.3 616.5,402.4 620.5,362.1 624.5,362.7 628.5,380.2 632.5,412.7 636.5,427.6 640.5,448.5 644.5,524.2 648.5,497.4 652.5,490.5 656.5,470.8 660.5,460.9 664.5,461.6 668.5,462.5 672.5,459.5 676.5,439.8 680.5,429.9 684.5,400.6 688.5,362.9 692.5,360.3 696.5,348.8 700.5,333.6 704.5,334.5 708.5,321.5 712.5,325.8 716.5,335.9 720.5,355.3 724.5,381.8 728.5,381.3 732.5,385.1 736.5,396.4 740.5,383.5 744.5,375.8 748.5,340.6 752.5,329.5 756.5,341.8 760.5,349.3 764.5,351.1 768.5,356.4 772.5,370.1 776.5,380.7 780.5,424.9 784.5,426.3 788.5,433.4 792.5,445.8 796.5,441.9 800.5,428.6 804.5,406.2 808.5,393.4 812.5,377.8 816.5,357.3 820.5,346.4 824.5,348.1 828.5,373.4 832.5,371.1 836.5,380.4 840.5,374.8 844.5,387.6 848.5,399.2 852.5,409.7 856.5,425.9 860.5,431.3 864.5,438.4 868.5,451.5 872.5,421.2 876.5,423.7 880.5,407.9 884.5,420.6 888.5,387.5 892.5,375.8 896.5,349.9 900.5,342 904.5,356 908.5,352 912.5,338.7 916.5,364.2 920.5,370.7 924.5,394.9 928.5,406.3 932.5,410.8 936.5,402.9 940.5,404.3 944.5,414.1 948.5,446 952.5,442.7 956.5,414.9 960.5,397.6 964.5,361.9 968.5,350 972.5,311.3 976.5,298.4 980.5,294.1 984.5,292 988.5,276.7 992.5,272.9 996.5,254.3 1000.5,231.4 1004.5,231.1 1008.5,225.7 1012.5,219.2 1016.5,218.4 1020.5,229.5 1024.5,209.8 1028.5,203.9 1032.5,192.6 1036.5,162.2 1040.5,152.7 1044.5,163.6 1048.5,170.5 1052.5,184.2 1056.5,180.1 1060.5,142 1064.5,141.3 1068.5,171.1 1072.5,184.4 1076.5,186.1 1080.5,181.4 1084.5,183.8 1088.5,197.3 1092.5,216.4 1096.5,214.1 1100.5,193.4 1104.5,176.5 1108.5,141.5 1112.5,135.2 1116.5,133.1 1120.5,121.7 1124.5,133.2 1128.5,116.4 1132.5,170.1 1136.5,166 1140.5,157.3 1144.5,137.1 1148.5,111 1152.5,104.3 1156.5,72.8 1160.5,58.3 1164.5,47.4 1168.5,54.5 1172.5,64.8 1176.5,75.6 1180.5,85.2 1184.5,95.1 1188.5,107.7 1192.5,125.9 1196.5,148 1200.5,162 1204.5,166 1208.5,161.3 1212.5,153.8 1216.5,147.3 1220.5,140.4 1224.5,154.1 1228.5,156.7 1232.5,122.9 1236.5,95.6 1240.5,102.5 1244.5,116.2 1248.5,121.4 1252.5,114.5 1256.5,114.2 1260.5,113.4 1264.5,110.5 1268.5,125.5 1272.5,125.2 1276.5,131.1 1280.5,136.4 1284.5,152.1 1288.5,154 1292.5,134.7 1296.5,128.2 1300.5,132.1 1304.5,129.4 1308.5,126.5 1312.5,110.2 1316.5,118.1" fill="none" stroke="#f00" stroke-width="1" stroke-linejoin="round" shape-rendering="crispEdges" />
<g filter="url(#sh)">
<path d="M660.1 591.1L729.6 326.9L735 328.3L729.5 310.8L716 323.2L721.4 324.7L649.9 588.3ZM655 589.7m-5.2 0a5.2 5.2 0 1 0 10.5 0a5.2 5.2 0 1 0 -10.5 0z" fill="#f00" stroke="#f00" stroke-width="0.8" stroke-linejoin="round"/>
<path d="M750.6 292.8L949.4 434.7L946.1 439.3L964.4 440.4L957.6 423.4L954.3 427.9L756.8 284.2ZM753.7 288.5m-5.2 0a5.2 5.2 0 1 0 10.5 0a5.2 5.2 0 1 0 -10.5 0z" fill="#f00" stroke="#f00" stroke-width="0.8" stroke-linejoin="round"/>
<path d="M976.5 442.7L1129.6 62L1134.2 63.8L1130.9 45.8L1116 56.5L1120.6 58.3L965.1 438.1ZM970.8 440.4m-6.1 0a6.1 6.1 0 1 0 12.2 0a6.1 6.1 0 1 0 -12.2 0z" fill="#f00" stroke="#f00" stroke-width="0.8" stroke-linejoin="round"/>
<path d="M1158.2 35.8L1200.5 195.7L1194.9 197.1L1208.3 209.7L1213.9 192.2L1208.3 193.7L1167.8 33.2ZM1163 34.5m-5 0a5 5 0 1 0 10 0a5 5 0 1 0 -10 0z" fill="#f00" stroke="#f00" stroke-width="0.8" stroke-linejoin="round"/>
<path d="M1351 93.5L1424.9 253.8L1419.5 256.2L1434.8 266.3L1437.3 248.1L1431.8 250.6L1359.6 89.5ZM1355.3 91.5m-4.8 0a4.8 4.8 0 1 0 9.5 0a4.8 4.8 0 1 0 -9.5 0z" fill="#f00" stroke="#f00" stroke-width="0.8" stroke-linejoin="round"/>
</g>
</g>
<g shape-rendering="crispEdges" stroke="#000" stroke-width="1">
<path d="M1655.5 0V869.5"/>
<path d="M0 631.5H1656"/>
<path d="M0 633.5H1656"/>
<path d="M0 729.5H1656"/>
<path d="M0 731.5H1656"/>
<path d="M0 799.5H1656"/>
<path d="M0 801.5H1656"/>
<path d="M0 869.5H1656"/>
</g>
<rect x="0" y="890" width="1691" height="1" fill="#dedede"/><rect x="0" y="891" width="1691" height="1" fill="#f6f6f6"/>
<g stroke="#000" stroke-width="1" stroke-dasharray="3 3" shape-rendering="crispEdges">
<path d="M1 746.5H1654"/>
<path d="M1 765.5H1654"/>
<path d="M1 785.5H1654"/>
<path d="M1 816.5H1654"/>
<path d="M1 855.5H1654"/>
</g>
<polyline points="0,700 8,702.4 14.1,706 22.1,710.8 31.2,714 38.2,719.5 47.3,723.7 57.3,723.7 63.3,718.1 69.4,714.8 75.4,714 80.4,717.5 89.5,717.9 97.5,711.4 102.5,710.8 109.6,706 115.6,704.8 120.6,701.4 127.7,699.8 132.7,694.3 138.7,689.3 143.8,686.7 147.8,686.3 152.8,688.3 157.8,690.9 169.9,691.3 176.9,688.3 183,687.3 187,689.3 192,695.3 198,701.4 207.1,701.8 210.1,700.8 216.1,700.8 219.2,699.8 226.2,699.8 231.2,695.3 238.3,688.7 244.3,686.3 251.3,684.9 256.4,687.3 261.4,690.3 268.4,692.7 272.4,691.3 277.5,687.3 285.5,686.7 289.5,684.3 295.6,677.3 301.6,669.2 307.6,662.2 314.7,658.1 321.7,654.1 327.7,653.1 330,653.1 336,655.1 342.1,657.1 348.1,661.2 353.1,664.8 358.1,664.6 364.2,662.2 372.2,661.8 376.2,660.6 382.3,660.2 387.3,656.7 400.4,656.7 409.4,653.1 420.5,652.7 425.5,646.1 432.5,641.1 442.6,639 448.6,639 454.7,641.1 462.7,642.1 467.7,643.1 472.8,648.1 478.8,653.1 483.8,656.1 488.8,662.2 493.9,668.2 498.9,672.2 504.9,674.2 511,676.2 523,676.2 527,674.6 531.1,675.8 539.1,679.3 543.1,681.3 548.2,681.3 552.2,683.3 556.2,688.3 561.2,692.7 568.3,693.3 572.3,694.3 579.3,699.4 584.3,702.4 589.4,707.4 593.4,710.4 596.4,712.4 600.4,716.9 603.4,716.9 607.5,714.8 617.5,714.8 620.5,711.4 625.6,709 631.6,709 637.6,710.4 640.6,711.4 644.7,717.5 653.7,717.5 659.7,713.4 666,711.4 672.1,707.4 680.1,701.4 685.1,694.3 688.1,689.3 694.2,683.3 700.2,677.3 706.2,672.2 712.3,669.2 718.3,668.8 724.3,671.2 730.4,673.2 736.4,674.6 744.4,674.2 750.5,670.8 754.5,669.8 768.6,669.8 774.6,672.8 780.6,677.9 786.7,682.7 792.7,685.9 796.7,686.9 800.7,686.9 806.8,684.3 812.8,681.3 817.8,677.3 821.9,673.8 826.9,672.2 834.9,673.6 843,673.8 848,676.2 853,678.3 859.1,681.3 867.1,684.7 873.1,684.3 879.2,683.9 885.2,682.7 891.2,679.3 896.3,675.2 901.3,671.8 907.3,668.6 911.3,667.6 916.4,667.8 921.4,669.2 927.4,673.2 933.4,675.2 939.5,676.6 943.5,678.3 947.5,681.3 955.6,681.7 960.6,680.3 965.6,676.2 970.6,670.2 975.7,664.6 981.7,661.2 987.7,657.1 990,656.5 996,653.7 1002.1,649.5 1008.1,647.1 1014.1,645.7 1028.2,645.7 1036.2,643.1 1042.3,642.1 1048.3,643.1 1054.3,645.7 1063.4,645.1 1069.4,649.1 1075.5,652.5 1081.5,653.7 1088.5,658.6 1094.6,663.6 1104.6,663.6 1109.6,660.6 1114.7,660.2 1119.7,658.1 1128.7,658.1 1132.8,661.8 1138.8,662.8 1143.8,662.8 1148.8,660.2 1153.9,659.2 1158.9,655.5 1164.9,652.1 1171,650.7 1174,652.1 1179,656.1 1184,657.1 1189.1,660.6 1193.1,663.2 1199.1,669.2 1205.1,673.8 1211.2,676.6 1219.2,677.9 1227.3,678.3 1231.3,676.6 1237.3,672.8 1251.4,672.8 1255.4,671.8 1267.5,672.2 1271.5,673.6 1281.5,674.2 1285.6,676.6 1291.6,678.3 1297.6,676.2 1309.7,675.8 1313.7,673.8 1317.3,674.2" fill="none" stroke="#00f" stroke-width="2" stroke-linejoin="round" shape-rendering="crispEdges" />
<path d="M63 675h3v1h-3zM67 673h3v3h-3zM71 673h3v3h-3zM75 675h3v1h-3zM91 674h3v2h-3zM95 672h3v4h-3zM99 672h3v4h-3zM103 671h3v5h-3zM107 671h3v5h-3zM111 671h3v5h-3zM115 670h3v6h-3zM119 669h3v7h-3zM123 670h3v6h-3zM127 669h3v7h-3zM131 668h3v8h-3zM135 667h3v9h-3zM139 666h3v10h-3zM143 666h3v10h-3zM147 668h3v8h-3zM151 672h3v4h-3zM155 673h3v3h-3zM159 675h3v1h-3zM171 674h3v2h-3zM175 673h3v3h-3zM179 673h3v3h-3zM183 675h3v1h-3zM231 672h3v4h-3zM235 670h3v6h-3zM239 669h3v7h-3zM243 669h3v7h-3zM247 670h3v6h-3zM251 672h3v4h-3zM255 675h3v1h-3zM275 673h3v3h-3zM279 673h3v3h-3zM283 673h3v3h-3zM287 672h3v4h-3zM291 668h3v8h-3zM295 667h3v9h-3zM299 665h3v11h-3zM303 664h3v12h-3zM307 663h3v13h-3zM311 663h3v13h-3zM315 663h3v13h-3zM319 665h3v11h-3zM323 666h3v10h-3zM327 667h3v9h-3zM331 670h3v6h-3zM335 673h3v3h-3zM339 675h3v1h-3zM371 675h3v1h-3zM375 675h3v1h-3zM379 675h3v1h-3zM383 673h3v3h-3zM387 673h3v3h-3zM391 673h3v3h-3zM395 674h3v2h-3zM399 675h3v1h-3zM403 673h3v3h-3zM407 672h3v4h-3zM411 672h3v4h-3zM415 673h3v3h-3zM419 672h3v4h-3zM423 669h3v7h-3zM427 668h3v8h-3zM431 667h3v9h-3zM435 668h3v8h-3zM439 669h3v7h-3zM443 670h3v6h-3zM447 672h3v4h-3zM451 673h3v3h-3zM455 675h3v1h-3zM623 675h3v1h-3zM627 673h3v3h-3zM631 675h3v1h-3zM659 675h3v1h-3zM663 673h3v3h-3zM667 672h3v4h-3zM671 671h3v5h-3zM675 669h3v7h-3zM679 667h3v9h-3zM683 665h3v11h-3zM687 662h3v14h-3zM691 662h3v14h-3zM695 661h3v15h-3zM699 660h3v16h-3zM703 661h3v15h-3zM707 662h3v14h-3zM711 664h3v12h-3zM715 666h3v10h-3zM719 668h3v8h-3zM723 671h3v5h-3zM727 672h3v4h-3zM731 675h3v1h-3zM743 675h3v1h-3zM747 673h3v3h-3zM751 673h3v3h-3zM755 673h3v3h-3zM759 673h3v3h-3zM763 675h3v1h-3zM767 675h3v1h-3zM811 674h3v2h-3zM815 672h3v4h-3zM819 670h3v6h-3zM823 670h3v6h-3zM827 672h3v4h-3zM831 673h3v3h-3zM835 673h3v3h-3zM839 675h3v1h-3zM843 675h3v1h-3zM887 675h3v1h-3zM891 672h3v4h-3zM895 670h3v6h-3zM899 669h3v7h-3zM903 670h3v6h-3zM907 669h3v7h-3zM911 670h3v6h-3zM915 671h3v5h-3zM919 673h3v3h-3zM923 675h3v1h-3zM963 673h3v3h-3zM967 670h3v6h-3zM971 667h3v9h-3zM975 666h3v10h-3zM979 666h3v10h-3zM983 666h3v10h-3zM987 666h3v10h-3zM991 666h3v10h-3zM995 666h3v10h-3zM999 666h3v10h-3zM1003 667h3v9h-3zM1007 668h3v8h-3zM1011 669h3v7h-3zM1015 670h3v6h-3zM1019 671h3v5h-3zM1023 672h3v4h-3zM1027 672h3v4h-3zM1031 672h3v4h-3zM1035 671h3v5h-3zM1039 672h3v4h-3zM1043 673h3v3h-3zM1047 675h3v1h-3zM1059 675h3v1h-3zM1115 675h3v1h-3zM1119 675h3v1h-3zM1123 675h3v1h-3zM1127 675h3v1h-3zM1147 675h3v1h-3zM1151 674h3v2h-3zM1155 672h3v4h-3zM1159 671h3v5h-3zM1163 670h3v6h-3zM1167 670h3v6h-3zM1171 672h3v4h-3zM1175 675h3v1h-3zM1235 675h3v1h-3zM1239 675h3v1h-3zM1243 675h3v1h-3zM1247 675h3v1h-3zM1251 675h3v1h-3zM1255 675h3v1h-3zM1259 675h3v1h-3zM1263 675h3v1h-3zM1311 674h3v2h-3zM1315 674h3v2h-3z" fill="#008000" shape-rendering="crispEdges"/>
<path d="M-1 675h3v8h-3zM3 675h3v9h-3zM7 675h3v9h-3zM11 675h3v9h-3zM15 675h3v10h-3zM19 675h3v10h-3zM23 675h3v10h-3zM27 675h3v10h-3zM31 675h3v10h-3zM35 675h3v10h-3zM39 675h3v10h-3zM43 675h3v9h-3zM47 675h3v9h-3zM51 675h3v7h-3zM55 675h3v5h-3zM59 675h3v2h-3zM79 675h3v2h-3zM83 675h3v2h-3zM87 676h3v1h-3zM163 675h3v2h-3zM167 676h3v1h-3zM187 675h3v2h-3zM191 675h3v6h-3zM195 675h3v8h-3zM199 675h3v8h-3zM203 675h3v6h-3zM207 675h3v4h-3zM211 675h3v3h-3zM215 675h3v2h-3zM219 675h3v2h-3zM223 675h3v2h-3zM227 676h3v1h-3zM259 675h3v2h-3zM263 675h3v2h-3zM267 675h3v2h-3zM271 675h3v2h-3zM343 675h3v2h-3zM347 675h3v4h-3zM351 675h3v5h-3zM355 675h3v4h-3zM359 675h3v3h-3zM363 675h3v2h-3zM367 676h3v1h-3zM459 676h3v1h-3zM463 676h3v1h-3zM467 675h3v2h-3zM471 675h3v5h-3zM475 675h3v7h-3zM479 675h3v9h-3zM483 675h3v11h-3zM487 675h3v13h-3zM491 675h3v14h-3zM495 675h3v15h-3zM499 675h3v14h-3zM503 675h3v12h-3zM507 675h3v10h-3zM511 675h3v9h-3zM515 675h3v7h-3zM519 675h3v5h-3zM523 675h3v4h-3zM527 675h3v4h-3zM531 675h3v3h-3zM535 675h3v4h-3zM539 675h3v6h-3zM543 675h3v6h-3zM547 675h3v5h-3zM551 675h3v6h-3zM555 675h3v8h-3zM559 675h3v10h-3zM563 675h3v10h-3zM567 675h3v8h-3zM571 675h3v8h-3zM575 675h3v8h-3zM579 675h3v8h-3zM583 675h3v9h-3zM587 675h3v11h-3zM591 675h3v12h-3zM595 675h3v12h-3zM599 675h3v14h-3zM603 675h3v9h-3zM607 675h3v7h-3zM611 675h3v7h-3zM615 675h3v5h-3zM619 675h3v2h-3zM635 676h3v1h-3zM639 675h3v3h-3zM643 675h3v6h-3zM647 675h3v5h-3zM651 675h3v4h-3zM655 675h3v2h-3zM735 675h3v2h-3zM739 676h3v1h-3zM771 675h3v3h-3zM775 675h3v4h-3zM779 675h3v6h-3zM783 675h3v7h-3zM787 675h3v8h-3zM791 675h3v9h-3zM795 675h3v7h-3zM799 675h3v6h-3zM803 675h3v4h-3zM807 675h3v2h-3zM847 675h3v2h-3zM851 675h3v3h-3zM855 675h3v4h-3zM859 675h3v5h-3zM863 675h3v6h-3zM867 675h3v6h-3zM871 675h3v5h-3zM875 675h3v3h-3zM879 675h3v2h-3zM883 676h3v1h-3zM927 675h3v3h-3zM931 675h3v4h-3zM935 675h3v3h-3zM939 675h3v4h-3zM943 675h3v5h-3zM947 675h3v7h-3zM951 675h3v5h-3zM955 675h3v4h-3zM959 675h3v3h-3zM1051 675h3v2h-3zM1055 675h3v2h-3zM1063 676h3v1h-3zM1067 675h3v4h-3zM1071 675h3v5h-3zM1075 675h3v6h-3zM1079 675h3v6h-3zM1083 675h3v7h-3zM1087 675h3v8h-3zM1091 675h3v9h-3zM1095 675h3v8h-3zM1099 675h3v7h-3zM1103 675h3v5h-3zM1107 675h3v3h-3zM1111 676h3v1h-3zM1131 675h3v3h-3zM1135 675h3v4h-3zM1139 675h3v4h-3zM1143 675h3v2h-3zM1179 675h3v2h-3zM1183 675h3v3h-3zM1187 675h3v5h-3zM1191 675h3v6h-3zM1195 675h3v8h-3zM1199 675h3v9h-3zM1203 675h3v11h-3zM1207 675h3v10h-3zM1211 675h3v8h-3zM1215 675h3v8h-3zM1219 675h3v7h-3zM1223 675h3v7h-3zM1227 675h3v6h-3zM1231 675h3v3h-3zM1267 676h3v1h-3zM1271 675h3v2h-3zM1275 675h3v2h-3zM1279 675h3v3h-3zM1283 675h3v4h-3zM1287 675h3v5h-3zM1291 675h3v3h-3zM1295 675h3v2h-3zM1299 675h3v2h-3zM1303 676h3v1h-3zM1307 676h3v1h-3z" fill="#f00" shape-rendering="crispEdges"/>
<polyline points="0,692.7 10.1,696.4 20.1,701.4 30.2,706 40.2,711.4 48.3,715.5 56.3,718.5 60.3,719.5 66.4,718.1 76.4,716.5 84.4,717.5 92.5,717.5 100.5,714.4 110.6,710.8 120.6,707.4 130.7,704 140.7,698.4 150.8,692.9 160.9,692.3 170.9,691.9 181,689.9 189,689.3 197,692.3 205.1,695.9 213.1,698.4 221.2,699.4 229.2,699 237.3,695.3 245.3,691.9 251.3,690.3 259.4,690.3 269.4,690.9 277.5,689.7 285.5,689.3 293.6,686.3 301.6,681.3 309.6,674.2 317.7,668.2 325.7,662.2 330,660.2 336,658.6 344.1,658.8 354.1,661.2 364.2,661.8 376.2,661.2 390.3,659.6 404.4,658.1 420.5,655.1 430.5,650.1 438.6,646.5 446.6,643.7 456.7,642.7 470.7,643.1 478.8,646.1 486.8,650.1 494.9,657.1 502.9,663.2 511,667.2 519,670.8 527,672.2 535.1,673.2 543.1,677.3 551.2,679.3 559.2,683.3 567.3,686.3 577.3,691.3 587.4,695.9 595.4,702.4 601.4,706 611.5,709.4 617.5,711.4 625.6,710.4 635.6,710.4 641.7,711 647.7,713 653.7,714.4 660,714 668,713.4 676.1,710 684.1,706.4 692.2,700.4 700.2,693.3 708.3,685.3 714.3,680.3 720.3,677.3 728.4,675.2 736.4,675.2 744.4,675.2 752.5,673.2 760.5,671.6 768.6,671.2 776.6,672.6 784.7,675.8 792.7,679.9 800.7,682.3 808.8,682.7 816.8,680.9 824.9,678.3 832.9,676.2 841,675.6 849,675.8 857,677.9 865.1,680.7 873.1,682.3 881.2,682.9 889.2,681.3 897.3,678.7 905.3,675.2 913.3,672.6 921.4,671.6 929.4,672.6 937.5,673.2 945.5,675.2 953.6,677.3 961.6,678.3 969.6,676.2 977.7,672.6 985.7,668.2 990,666.2 1000.1,659.2 1010.1,653.7 1020.2,651.1 1030.2,648.5 1042.3,645.7 1056.4,645.5 1068.4,645.5 1078.5,648.5 1086.5,651.1 1096.6,656.1 1105.6,659.6 1114.7,659.8 1126.7,658.8 1136.8,659.8 1144.8,661.6 1154.9,660.2 1164.9,657.1 1173,655.7 1183,655.3 1191.1,656.7 1199.1,661.2 1207.2,666.2 1215.2,669.8 1223.2,672.2 1231.3,674.2 1241.3,673.8 1251.4,673.2 1261.4,672.8 1271.5,672.6 1279.5,673.8 1287.6,675.2 1297.6,676.2 1307.7,676.2 1317.3,675.2" fill="none" stroke="#f00" stroke-width="1" stroke-linejoin="round" shape-rendering="crispEdges" />
<polyline points="0,782.8 4,784.4 8,780.8 12.1,783.8 20.1,785.8 24.1,784.4 33.2,784.4 36.2,786.8 49.3,786.8 51.9,780.8 56.3,781.2 60.3,773.8 64.3,773.2 68.4,775.2 74.4,776.8 80.4,780.8 88.5,779.8 92.5,771.8 96.5,771.1 100.5,774.2 106.6,770.7 112.6,773.2 120.6,770.1 128.7,770.7 132.7,766.3 138.7,763.7 144.8,765.1 152.8,773.8 158.8,773.8 166.9,772.4 172.9,766.1 176.9,766.1 184,770.1 188,777.4 196,780.8 200.1,778.8 205.1,772.4 217.2,773.8 225.2,773.8 233.2,766.7 237.3,764.1 241.3,764.1 245.3,767.1 248.3,767.1 257.4,774.8 263.4,774.4 268.4,775.2 273.4,766.7 277.1,763.7 280.5,769.1 285.5,766.7 289.5,766.1 292.6,759.1 299.6,759.7 305.6,756.1 313.7,757.1 319.7,756.1 328.7,757.1 330,758.7 333,762.1 341.1,762.1 345.1,766.1 354.1,766.1 358.1,761.7 363.2,758.7 368.2,761.1 376.2,759.7 381.3,758.7 386.3,755.7 389.3,755.1 392.3,760.1 396.4,759.1 400.4,760.1 405.4,756.1 410.4,757.1 419.5,757.1 423.5,750 432.5,751 436.6,753.1 444.6,754.1 448.6,752.7 452.7,756.1 458.7,755.1 465.7,754.3 468.7,755.7 472.8,762.7 476.8,765.1 483.8,765.1 487.8,768.7 492.9,773.2 496.9,772.8 502.9,768.1 507.9,769.1 513,766.3 519,766.3 525,763.7 529.1,766.1 535.1,769.7 541.1,770.7 549.2,771.1 553.2,773.8 557.2,779.8 561.2,779.8 564.2,773.8 568.3,771.8 573.3,776.4 577.3,778.2 584.3,778.2 589.4,782.8 593.4,782.8 596.4,780.8 600.4,784.4 604.5,774.4 608.5,773.8 612.5,776.2 616.5,775.8 620.5,770.1 624.6,769.7 630.6,774.2 637.6,775.4 644.7,781.2 647.7,774.8 651.7,773.8 657.7,772.2 660,772.2 672.1,772.2 677.1,768.1 681.1,767.7 686.1,762.7 690.2,761.7 696.2,761.7 700.2,759.7 704.2,761.1 708.3,759.7 712.3,760.1 717.3,763.3 720.3,763.7 724.3,768.1 729.4,766.7 735.4,769.1 740.4,765.1 744.4,765.1 748.5,760.1 752.5,759.7 756.5,762.7 764.6,763.1 769.6,765.1 773.6,767.7 776.6,768.1 780.2,775.2 784.7,773.2 788.7,773.2 790.7,774.2 795.7,774.2 800.7,770.3 804.8,766.3 808.8,765.7 812.8,763.1 816.8,759.7 820.9,758.3 824.9,760.7 828.9,766.3 832.9,765.3 836.9,765.7 841,764.7 849,769.7 855,772.2 861.1,772.8 868.1,775.2 872.1,766.1 876.1,768.7 880.2,765.3 884.2,767.7 888.2,762.1 893.2,761.7 898.3,758.7 901.3,759.7 904.3,763.1 909.3,760.7 912.3,760.1 915.4,765.1 919.4,765.1 925.4,768.7 931.4,770.1 938.5,766.7 943.5,770.1 948.5,774.4 953.6,768.7 957.6,766.3 960.6,766.7 964.6,760.7 967.6,759.7 971.7,756.1 983.7,756.1 988.7,754.7 990,754.7 994,754.1 999,751 1004.1,752 1010.1,751.2 1016.1,751.2 1020.2,755.1 1024.2,752 1031.2,751.6 1035.2,749 1039.3,748 1045.3,753.1 1048.3,753.1 1052.7,757.1 1056.4,755.7 1060.4,751 1063.4,752.7 1068.4,762.1 1076.5,762.1 1080.5,760.1 1084.5,762.1 1092.5,767.3 1099.6,763.1 1104.6,760.7 1108.6,757.1 1114.7,757.7 1120.7,757.1 1124.7,759.7 1128.7,758.1 1132.4,767.1 1136.8,764.3 1141.8,762.7 1148.8,759.3 1154.9,758.7 1157.9,756.3 1162.9,755.3 1166.9,755.7 1171,758.1 1177,762.7 1185,763.1 1192.1,766.3 1199.1,772.2 1203.1,771.1 1209.2,768.7 1218.2,767.1 1223.2,768.7 1229.3,768.7 1232.3,762.1 1237.3,760.1 1243.3,764.7 1249.4,764.7 1253.4,763.7 1263.4,763.1 1267.5,766.7 1273.5,766.1 1279.5,768.7 1284.6,771.1 1288.6,770.7 1292.6,764.1 1295.6,764.1 1300.6,766.1 1305.7,765.7 1309.7,764.3 1312.7,762.1 1316.7,764.3" fill="none" stroke="#1e90ff" stroke-width="2" stroke-linejoin="round" shape-rendering="crispEdges" />
<polyline points="0,853.3 4,856.3 8,856.7 14.1,858.3 20.1,859.9 28.1,860.7 36.2,861.3 44.2,862.3 50.3,860.3 56.3,856.3 62.3,847.3 66.4,840.2 70.4,833.2 74.4,832.2 77.4,836.2 82.4,846.3 87.5,855.3 91.5,852.3 95.5,844.2 99.5,836.2 104.6,830.6 110.6,828.2 115.6,827.8 121.6,829.2 128.7,830.8 132.7,830.2 137.7,823.1 142.8,816.1 145.8,815.1 149.8,818.1 153.8,830.2 158.8,847.3 162.9,855.3 166.9,854.9 170.9,851.3 175.9,843.2 181,834.2 185,830.2 188,832.2 192,843.2 196,852.3 200.1,858.3 204.1,857.9 209.1,851.3 214.1,845.3 221.2,840.2 228.2,835.2 233.2,828.2 238.3,819.1 242.3,813.7 245.3,814.1 249.3,821.1 254.3,833.2 259.4,844.2 264.4,851.3 270.4,848.3 274.5,843.2 279.5,833.2 284.5,825.1 289.5,823.1 293.6,820.1 298.6,815.1 303.6,811.1 309.6,809.7 314.7,808.5 319.7,809.7 325.7,812.5 329.3,815.7 330,816.1 334,822.1 339,835.2 345.1,850.3 351.1,857.9 355.1,858.3 359.2,852.3 363.2,841.2 367.2,826.1 371.2,816.5 375.2,813.1 380.3,812.5 385.3,811.1 389.3,810.5 393.3,814.1 397.4,818.1 401.4,824.1 405.4,823.1 409.4,821.7 413.4,815.7 418.5,817.1 423.5,820.1 428.5,819.1 433.5,815.1 438.6,815.1 443.6,818.1 449.6,819.7 455.7,822.1 461.7,830.2 466.7,833.8 470.7,835.2 476.8,843.2 481.8,856.3 487.8,863.9 492.9,864.4 497.9,863.9 502.9,859.3 507.9,852.3 513,841.2 518,831.2 523,822.1 528,816.1 532.1,814.5 537.1,822.1 542.1,835.2 547.2,847.3 552.2,856.3 557.2,861.3 561.2,864.8 565.2,863.3 570.3,855.3 575.3,850.7 580.3,852.3 585.4,856.3 591.4,857.7 597.4,856.3 602.4,857.3 608.5,854.7 612.5,848.3 617.5,842.2 622.6,837.2 627.6,829.2 630.6,827.8 634.6,834.2 639.6,847.3 643.7,857.3 648.7,858.3 652.7,851.3 657.7,842.2 660,839.2 666,831.2 672.1,823.1 678.1,817.1 684.1,811.1 690.2,808.5 698.2,807.7 706.2,807.5 711.3,808.1 715.3,813.1 719.3,822.1 723.3,833.2 727.4,843.2 731.4,849.3 735.4,851.3 740.4,850.3 745.5,848.3 749.5,840.2 753.5,828.2 757.5,818.1 760.5,815.7 764.6,818.1 769.6,823.1 774.6,831.2 778.6,841.2 782.7,853.3 786.7,859.3 790.7,860.7 796.7,859.9 800.7,857.3 805.8,848.3 809.8,834.2 813.8,820.1 817.8,811.1 821.9,807 824.9,808.1 828.9,814.1 833.9,824.1 838.9,835.2 844,844.2 849,851.3 854,857.9 859.1,860.7 864.1,859.9 869.1,857.3 874.1,850.3 879.2,838.2 884.2,828.2 889.2,819.1 894.2,812.1 899.3,808.5 903.3,810.1 908.3,815.1 913.3,818.1 918.4,822.1 922.4,828.2 926.4,842.2 930.4,856.3 935.5,863.3 940.5,858.3 944.5,856.3 949.5,856.7 954.6,855.3 958.6,846.3 963.6,832.2 968.6,819.1 972.7,811.1 977.7,807.5 983.7,807.5 988.7,808.5 990,809.1 996,807.7 1002.1,807 1008.1,808.5 1014.1,811.7 1020.2,814.1 1026.2,815.7 1034.2,816.5 1042.3,817.1 1047.3,820.1 1052.3,827.2 1057.4,834.2 1062.4,832.2 1067.4,828.6 1071.4,833.2 1076.5,844.2 1080.5,849.3 1084.5,847.3 1088.5,845.3 1093.5,852.3 1099.6,856.7 1103.6,849.3 1107.6,835.2 1111.6,822.1 1115.7,814.1 1120.7,813.1 1127.7,813.7 1131.8,820.1 1135.8,829.2 1139.8,840.2 1143.8,841.8 1148.8,836.2 1152.9,826.1 1157.9,817.1 1162.9,811.1 1167.9,808.5 1172,809.7 1176,816.1 1180,828.2 1184,841.2 1188,853.3 1192.1,860.3 1197.1,863.3 1202.1,862.7 1207.2,860.3 1212.2,855.3 1218.2,847.3 1224.2,840.2 1230.3,836.2 1235.3,829.2 1240.3,822.5 1244.3,823.1 1249.4,830.2 1254.4,835.2 1260.4,834.8 1266.5,833.8 1272.5,834.8 1278.5,837.2 1283.6,842.2 1287.6,849.3 1291.6,851.3 1296.6,843.2 1301.7,832.2 1306.7,825.1 1311.7,819.1 1315.7,816.5" fill="none" stroke="#f00" stroke-width="1" stroke-linejoin="round" shape-rendering="crispEdges" />
<polyline points="0,855.3 5,860.3 8,856.9 13.1,860.3 17.1,858.9 20.1,861.3 25.1,858.3 29.2,860.7 33.2,860.7 37.2,863.3 41.2,861.9 45.2,862.3 49.3,859.3 52.3,854.3 56.3,852.3 60.3,842.2 64.3,835.2 68.4,827.8 72.4,831.2 76.4,840.2 80.4,852.3 84.4,856.3 88.5,854.3 92.5,843.2 96.5,835.2 101.5,830.2 105.6,829.2 109.6,828.2 112.6,825.7 115.6,828.2 120.6,830.2 124.7,830.8 128.7,832.2 132.7,826.1 136.7,818.1 140.7,811.7 144.8,814.1 148.8,822.1 152.8,838.2 156.8,856.3 160.9,858.3 164.9,854.3 168.9,850.7 172.9,843.2 176.9,833.2 181,825.5 184,827.8 187,838.2 190,848.3 193,856.3 197,861.3 201.1,859.3 204.1,855.3 208.1,848.3 212.1,842.2 216.1,840.8 221.2,838.2 227.2,831.2 231.2,824.1 235.2,814.1 238.3,810.5 240.3,811.1 243.3,816.1 248.3,826.1 253.3,840.2 257.4,849.3 260.4,853.3 265.4,850.3 269.4,847.3 273.4,840.2 277.5,828.2 281.5,822.1 284.5,821.5 288.5,825.1 291.5,819.1 295.6,814.1 299.6,811.1 303.6,810.1 308.6,809.1 311.7,807.5 316.7,811.1 321.7,812.5 325.7,815.7 329.3,817.1 330,818.1 334,831.2 339,848.3 344.1,859.3 348.1,859.3 352.1,861.9 356.1,853.3 360.2,838.2 364.2,821.1 368.2,813.1 372.2,811.5 377.3,812.5 382.3,810.5 387.3,809.7 390.3,812.5 395.3,821.1 400.4,830.6 403.4,823.1 408.4,814.1 412.4,811.7 416.5,818.1 420.5,825.1 424.5,819.1 428.5,815.1 432.5,812.5 436.6,816.5 440.6,817.1 444.6,821.1 448.6,819.7 452.7,821.7 456.7,826.1 460.7,834.2 464.7,838.2 468.7,831.8 472.8,839.2 476.8,854.3 480.8,863.9 484.8,864.4 488.8,865.4 492.9,863.9 496.9,863.9 500.9,859.3 504.9,852.3 508.9,843.2 513,832.2 517,824.1 521,818.1 525,812.5 528,813.1 531.1,815.7 535.1,824.1 539.1,836.2 543.1,847.3 548.2,856.3 553.2,860.3 557.2,864.4 560.8,868.4 564.2,860.3 568.3,852.3 572.3,846.7 576.3,853.3 580.3,858.3 584.3,856.9 589.4,856.3 595.4,856.3 600.4,859.3 604.5,854.3 608.5,849.3 612.5,839.8 616.5,841.2 620.5,835.2 624.6,826.1 628.6,822.1 631.6,838.2 635.6,851.3 640.6,862.3 644.7,860.7 648.7,853.3 655.7,838.2 659.3,833.8 660,833.2 665,826.1 669,821.1 673.1,819.1 677.1,814.1 681.1,812.1 685.1,807.5 696.2,807.5 700.2,807.7 704.2,806.4 709.3,808.1 713.3,814.1 717.3,823.1 720.3,834.2 724.3,848.3 728.4,851.9 732.4,849.9 736.4,850.7 740.4,848.3 744.4,846.3 748.5,832.2 752.5,818.1 756.5,812.5 760.5,818.1 764.6,822.1 768.6,824.1 772.6,834.2 776.6,846.3 780.6,861.9 785.7,860.3 790.7,859.3 796.7,859.3 800.7,854.3 804.8,840.2 808.8,824.1 812.8,812.1 816.8,806.4 820.9,806.6 824.9,812.1 828.9,822.1 832.9,832.2 836.9,840.2 841,842.2 845,849.3 850,856.3 853,861.3 857,862.3 861.1,859.3 867.1,857.3 871.1,849.3 876.1,839.2 880.2,823.1 884.2,822.1 888.2,813.1 893.2,812.1 897.3,805.6 901.3,808.1 905.3,815.1 909.3,819.1 913.3,819.1 917.4,823.1 921.4,833.2 925.4,852.3 928.4,863.3 932.4,865.4 937.5,857.3 941.5,854.3 945.5,855.3 948.5,860.3 953.6,855.3 957.6,840.2 961.6,828.2 965.6,817.1 969.6,811.1 974.7,806.6 978.7,806.6 983.7,809.1 988.7,809.1 990,808.5 995,807.5 1000.1,806.4 1005.1,807.7 1010.1,811.1 1013.1,813.1 1016.1,812.1 1020.2,817.1 1023.2,815.1 1030.2,816.5 1042.3,816.5 1046.3,821.1 1051.3,831.2 1056.4,838.2 1060.4,831.2 1064.4,823.7 1068.4,830.2 1072.4,846.3 1076.5,854.7 1080.5,845.3 1084.5,844.2 1088.5,847.3 1092.5,857.3 1096.6,859.9 1100.6,848.3 1104.6,828.2 1108.6,814.1 1112.7,813.1 1126.7,813.1 1129.7,818.1 1132.8,834.2 1136.8,842.2 1140.4,849.3 1143.8,838.2 1147.8,826.1 1151.9,818.1 1155.9,812.5 1160.9,810.1 1164.9,807.5 1168.9,808.5 1173,815.1 1177,830.2 1181,846.3 1185,857.3 1189.1,862.3 1193.1,862.3 1197.1,864.4 1201.1,862.3 1206.1,859.3 1211.2,852.3 1216.2,845.3 1221.2,839.8 1225.2,838.2 1229.3,835.2 1233.3,827.2 1237.3,819.1 1240.3,819.7 1244.3,828.2 1248.4,836.2 1252.4,837.2 1257.4,835.2 1262.4,832.6 1268.5,835.2 1273.5,836.2 1279.5,839.2 1284.6,851.3 1288.6,857.3 1292.6,844.2 1297.6,830.2 1301.7,824.1 1307.7,822.1 1310.7,816.1 1312.7,811.7 1315.7,816.1" fill="none" stroke="#00f" stroke-width="1" stroke-linejoin="round" shape-rendering="crispEdges" />
<g font-family="'Liberation Sans', sans-serif" font-size="10.2" text-rendering="geometricPrecision">
<path d="M3.5 3h7l-3.5 4z" fill="#000"/>
<text x="16" y="8" fill="#000" text-anchor="start" textLength="51" lengthAdjust="spacingAndGlyphs">AUDJPY,H4</text>
<text x="72.7" y="8" fill="#000" text-anchor="start" textLength="120.8" lengthAdjust="spacingAndGlyphs">85.267 85.435 84.966 84.981</text>
<text x="4.4" y="645.9" fill="#000" text-anchor="start" textLength="189.7" lengthAdjust="spacingAndGlyphs">MACD(12,26,9) 0.0266 0.0037 0.0229 0.0000</text>
<text x="4.4" y="744.6" fill="#000" text-anchor="start" textLength="67.4" lengthAdjust="spacingAndGlyphs">RSI(14) 51.6842</text>
<text x="4.4" y="814" fill="#000" text-anchor="start" textLength="121" lengthAdjust="spacingAndGlyphs">Stoch(8,3,3) 79.7642 79.4844</text>
<path d="M1656 2.5h2" stroke="#000" shape-rendering="crispEdges"/>
<text x="1661" y="6" fill="#000" text-anchor="start" textLength="28" lengthAdjust="spacingAndGlyphs">86.780</text>
<path d="M1656 34.5h2" stroke="#000" shape-rendering="crispEdges"/>
<text x="1661" y="38" fill="#000" text-anchor="start" textLength="28" lengthAdjust="spacingAndGlyphs">86.290</text>
<path d="M1656 67.5h2" stroke="#000" shape-rendering="crispEdges"/>
<text x="1661" y="71" fill="#000" text-anchor="start" textLength="28" lengthAdjust="spacingAndGlyphs">85.790</text>
<path d="M1656 100.5h2" stroke="#000" shape-rendering="crispEdges"/>
<text x="1661" y="104" fill="#000" text-anchor="start" textLength="28" lengthAdjust="spacingAndGlyphs">85.300</text>
<path d="M1656 133.5h2" stroke="#000" shape-rendering="crispEdges"/>
<text x="1661" y="137" fill="#000" text-anchor="start" textLength="28" lengthAdjust="spacingAndGlyphs">84.800</text>
<path d="M1656 166.5h2" stroke="#000" shape-rendering="crispEdges"/>
<text x="1661" y="170" fill="#000" text-anchor="start" textLength="28" lengthAdjust="spacingAndGlyphs">84.310</text>
<path d="M1656 199.5h2" stroke="#000" shape-rendering="crispEdges"/>
<text x="1661" y="203" fill="#000" text-anchor="start" textLength="28" lengthAdjust="spacingAndGlyphs">83.810</text>
<path d="M1656 232.5h2" stroke="#000" shape-rendering="crispEdges"/>
<text x="1661" y="236" fill="#000" text-anchor="start" textLength="28" lengthAdjust="spacingAndGlyphs">83.310</text>
<path d="M1656 265.5h2" stroke="#000" shape-rendering="crispEdges"/>
<text x="1661" y="269" fill="#000" text-anchor="start" textLength="28" lengthAdjust="spacingAndGlyphs">82.820</text>
<path d="M1656 298.5h2" stroke="#000" shape-rendering="crispEdges"/>
<text x="1661" y="302" fill="#000" text-anchor="start" textLength="28" lengthAdjust="spacingAndGlyphs">82.320</text>
<path d="M1656 331.5h2" stroke="#000" shape-rendering="crispEdges"/>
<text x="1661" y="335" fill="#000" text-anchor="start" textLength="28" lengthAdjust="spacingAndGlyphs">81.830</text>
<path d="M1656 364.5h2" stroke="#000" shape-rendering="crispEdges"/>
<text x="1661" y="368" fill="#000" text-anchor="start" textLength="28" lengthAdjust="spacingAndGlyphs">81.330</text>
<path d="M1656 397.5h2" stroke="#000" shape-rendering="crispEdges"/>
<text x="1661" y="401" fill="#000" text-anchor="start" textLength="28" lengthAdjust="spacingAndGlyphs">80.840</text>
<path d="M1656 430.5h2" stroke="#000" shape-rendering="crispEdges"/>
<text x="1661" y="434" fill="#000" text-anchor="start" textLength="28" lengthAdjust="spacingAndGlyphs">80.340</text>
<path d="M1656 463.5h2" stroke="#000" shape-rendering="crispEdges"/>
<text x="1661" y="467" fill="#000" text-anchor="start" textLength="28" lengthAdjust="spacingAndGlyphs">79.840</text>
<path d="M1656 496.5h2" stroke="#000" shape-rendering="crispEdges"/>
<text x="1661" y="500" fill="#000" text-anchor="start" textLength="28" lengthAdjust="spacingAndGlyphs">79.350</text>
<path d="M1656 529.5h2" stroke="#000" shape-rendering="crispEdges"/>
<text x="1661" y="533" fill="#000" text-anchor="start" textLength="28" lengthAdjust="spacingAndGlyphs">78.850</text>
<path d="M1656 562.5h2" stroke="#000" shape-rendering="crispEdges"/>
<text x="1661" y="566" fill="#000" text-anchor="start" textLength="28" lengthAdjust="spacingAndGlyphs">78.360</text>
<path d="M1656 595.5h2" stroke="#000" shape-rendering="crispEdges"/>
<text x="1661" y="599" fill="#000" text-anchor="start" textLength="28" lengthAdjust="spacingAndGlyphs">77.860</text>
<path d="M1656 628.5h2" stroke="#000" shape-rendering="crispEdges"/>
<text x="1661" y="632" fill="#000" text-anchor="start" textLength="28" lengthAdjust="spacingAndGlyphs">77.370</text>
<rect x="1657" y="116" width="34" height="11" fill="#000"/>
<text x="1661" y="125" fill="#fff" text-anchor="start" textLength="28" lengthAdjust="spacingAndGlyphs">84.981</text>
<text x="1660" y="644.3" fill="#000" text-anchor="start" textLength="27" lengthAdjust="spacingAndGlyphs">0.9321</text>
<path d="M1656 675.5h2" stroke="#000" shape-rendering="crispEdges"/>
<text x="1660" y="679.1" fill="#000" text-anchor="start" textLength="18" lengthAdjust="spacingAndGlyphs">0.00</text>
<text x="1659" y="726.4" fill="#000" text-anchor="start" textLength="31" lengthAdjust="spacingAndGlyphs">-1.2126</text>
<text x="1658.5" y="741.9" fill="#000" text-anchor="start" textLength="14.1" lengthAdjust="spacingAndGlyphs">100</text>
<text x="1658.5" y="750" fill="#000" text-anchor="start" textLength="9.4" lengthAdjust="spacingAndGlyphs">80</text>
<text x="1658.5" y="769" fill="#000" text-anchor="start" textLength="9.4" lengthAdjust="spacingAndGlyphs">50</text>
<text x="1658.5" y="789.2" fill="#000" text-anchor="start" textLength="9.4" lengthAdjust="spacingAndGlyphs">20</text>
<text x="1658.5" y="796" fill="#000" text-anchor="start" textLength="4.7" lengthAdjust="spacingAndGlyphs">0</text>
<text x="1658.5" y="812.4" fill="#000" text-anchor="start" textLength="14.1" lengthAdjust="spacingAndGlyphs">100</text>
<text x="1658.5" y="820" fill="#000" text-anchor="start" textLength="9.4" lengthAdjust="spacingAndGlyphs">80</text>
<text x="1658.5" y="859.1" fill="#000" text-anchor="start" textLength="9.4" lengthAdjust="spacingAndGlyphs">20</text>
<text x="1658.5" y="866" fill="#000" text-anchor="start" textLength="4.7" lengthAdjust="spacingAndGlyphs">0</text>
<path d="M0.5 870v3" stroke="#000" shape-rendering="crispEdges"/>
<text x="-1.2" y="881.8" fill="#000" text-anchor="start" textLength="45.3" lengthAdjust="spacingAndGlyphs">5 Jan 2016</text>
<path d="M64.5 870v3" stroke="#000" shape-rendering="crispEdges"/>
<text x="63.3" y="881.8" fill="#000" text-anchor="start" textLength="47.3" lengthAdjust="spacingAndGlyphs">8 Jan 04:00</text>
<path d="M128.5 870v3" stroke="#000" shape-rendering="crispEdges"/>
<text x="127.3" y="881.8" fill="#000" text-anchor="start" textLength="52.2" lengthAdjust="spacingAndGlyphs">12 Jan 20:00</text>
<path d="M192.5 870v3" stroke="#000" shape-rendering="crispEdges"/>
<text x="191.3" y="881.8" fill="#000" text-anchor="start" textLength="52.2" lengthAdjust="spacingAndGlyphs">15 Jan 12:00</text>
<path d="M256.5 870v3" stroke="#000" shape-rendering="crispEdges"/>
<text x="255.3" y="881.8" fill="#000" text-anchor="start" textLength="52.2" lengthAdjust="spacingAndGlyphs">20 Jan 04:00</text>
<path d="M320.5 870v3" stroke="#000" shape-rendering="crispEdges"/>
<text x="319.3" y="881.8" fill="#000" text-anchor="start" textLength="52.2" lengthAdjust="spacingAndGlyphs">22 Jan 20:00</text>
<path d="M384.5 870v3" stroke="#000" shape-rendering="crispEdges"/>
<text x="383.3" y="881.8" fill="#000" text-anchor="start" textLength="52.2" lengthAdjust="spacingAndGlyphs">27 Jan 12:00</text>
<path d="M448.5 870v3" stroke="#000" shape-rendering="crispEdges"/>
<text x="447.3" y="881.8" fill="#000" text-anchor="start" textLength="49.6" lengthAdjust="spacingAndGlyphs">1 Feb 04:00</text>
<path d="M512.5 870v3" stroke="#000" shape-rendering="crispEdges"/>
<text x="511.3" y="881.8" fill="#000" text-anchor="start" textLength="49.6" lengthAdjust="spacingAndGlyphs">3 Feb 20:00</text>
<path d="M576.5 870v3" stroke="#000" shape-rendering="crispEdges"/>
<text x="575.3" y="881.8" fill="#000" text-anchor="start" textLength="49.6" lengthAdjust="spacingAndGlyphs">8 Feb 12:00</text>
<path d="M640.5 870v3" stroke="#000" shape-rendering="crispEdges"/>
<text x="639.3" y="881.8" fill="#000" text-anchor="start" textLength="54.5" lengthAdjust="spacingAndGlyphs">11 Feb 04:00</text>
<path d="M704.5 870v3" stroke="#000" shape-rendering="crispEdges"/>
<text x="703.3" y="881.8" fill="#000" text-anchor="start" textLength="54.5" lengthAdjust="spacingAndGlyphs">15 Feb 20:00</text>
<path d="M768.5 870v3" stroke="#000" shape-rendering="crispEdges"/>
<text x="767.3" y="881.8" fill="#000" text-anchor="start" textLength="54.5" lengthAdjust="spacingAndGlyphs">18 Feb 12:00</text>
<path d="M832.5 870v3" stroke="#000" shape-rendering="crispEdges"/>
<text x="831.3" y="881.8" fill="#000" text-anchor="start" textLength="54.5" lengthAdjust="spacingAndGlyphs">23 Feb 04:00</text>
<path d="M896.5 870v3" stroke="#000" shape-rendering="crispEdges"/>
<text x="895.3" y="881.8" fill="#000" text-anchor="start" textLength="54.5" lengthAdjust="spacingAndGlyphs">25 Feb 20:00</text>
<path d="M960.5 870v3" stroke="#000" shape-rendering="crispEdges"/>
<text x="959.3" y="881.8" fill="#000" text-anchor="start" textLength="49.6" lengthAdjust="spacingAndGlyphs">1 Mar 12:00</text>
<path d="M1024.5 870v3" stroke="#000" shape-rendering="crispEdges"/>
<text x="1023.3" y="881.8" fill="#000" text-anchor="start" textLength="49.6" lengthAdjust="spacingAndGlyphs">4 Mar 04:00</text>
<path d="M1088.5 870v3" stroke="#000" shape-rendering="crispEdges"/>
<text x="1087.3" y="881.8" fill="#000" text-anchor="start" textLength="49.6" lengthAdjust="spacingAndGlyphs">8 Mar 20:00</text>
<path d="M1152.5 870v3" stroke="#000" shape-rendering="crispEdges"/>
<text x="1151.3" y="881.8" fill="#000" text-anchor="start" textLength="54.5" lengthAdjust="spacingAndGlyphs">11 Mar 12:00</text>
<path d="M1216.5 870v3" stroke="#000" shape-rendering="crispEdges"/>
<text x="1215.3" y="881.8" fill="#000" text-anchor="start" textLength="54.5" lengthAdjust="spacingAndGlyphs">16 Mar 04:00</text>
<path d="M1280.5 870v3" stroke="#000" shape-rendering="crispEdges"/>
<text x="1279.3" y="881.8" fill="#000" text-anchor="start" textLength="54.5" lengthAdjust="spacingAndGlyphs">18 Mar 20:00</text>
</g>
</svg>
</body></html>
